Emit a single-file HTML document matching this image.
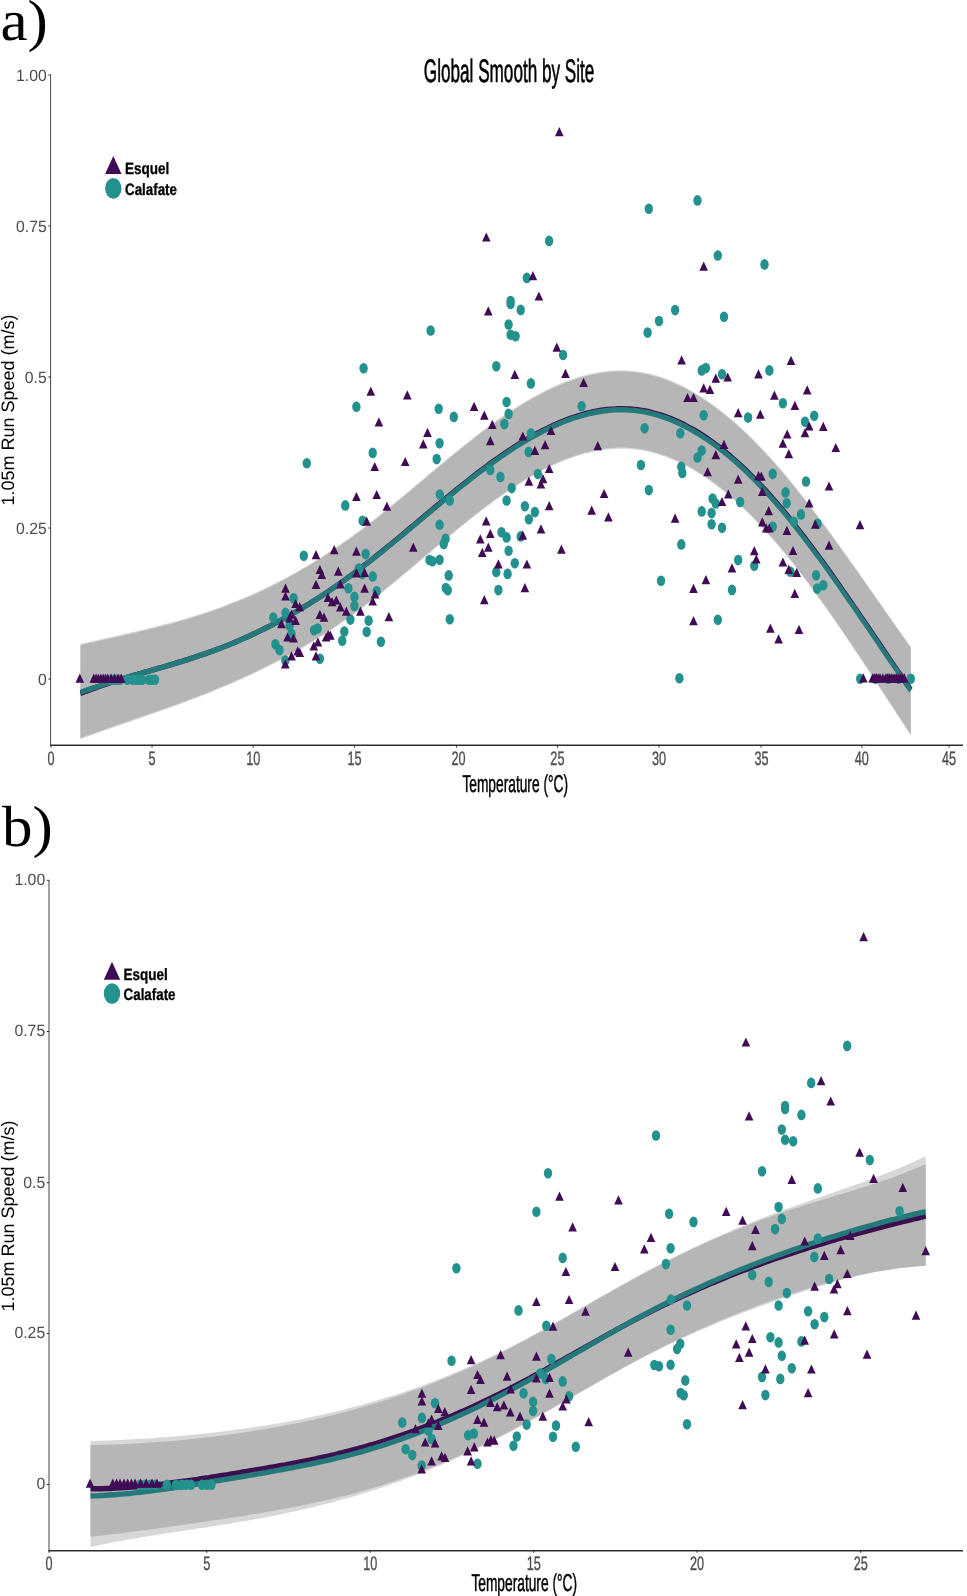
<!DOCTYPE html>
<html><head><meta charset="utf-8"><title>Global Smooth by Site</title>
<style>html,body{margin:0;padding:0;background:#fff;}body{width:967px;height:1596px;overflow:hidden;font-family:"Liberation Sans",sans-serif;}svg{display:block;}text{text-rendering:geometricPrecision;}</style>
</head><body>
<svg width="967" height="1596" viewBox="0 0 967 1596"><path d="M80.4,644.0 L84.2,643.1 L88.0,642.2 L91.8,641.4 L95.6,640.5 L99.4,639.6 L103.2,638.8 L106.9,637.9 L110.7,637.1 L114.5,636.2 L118.3,635.4 L122.1,634.5 L125.9,633.6 L129.7,632.8 L133.5,631.9 L137.3,631.0 L141.1,630.1 L144.9,629.2 L148.7,628.3 L152.4,627.3 L156.2,626.4 L160.0,625.4 L163.8,624.5 L167.6,623.5 L171.4,622.5 L175.2,621.4 L179.0,620.4 L182.8,619.3 L186.6,618.2 L190.4,617.0 L194.2,615.9 L197.9,614.7 L201.7,613.5 L205.5,612.3 L209.3,611.0 L213.1,609.7 L216.9,608.3 L220.7,607.0 L224.5,605.6 L228.3,604.1 L232.1,602.6 L235.9,601.1 L239.7,599.6 L243.4,598.0 L247.2,596.4 L251.0,594.7 L254.8,593.0 L258.6,591.3 L262.4,589.5 L266.2,587.7 L270.0,585.8 L273.8,583.9 L277.6,582.0 L281.4,580.0 L285.2,578.0 L288.9,576.0 L292.7,573.9 L296.5,571.8 L300.3,569.6 L304.1,567.4 L307.9,565.2 L311.7,562.9 L315.5,560.5 L319.3,558.2 L323.1,555.8 L326.9,553.3 L330.7,550.8 L334.4,548.3 L338.2,545.7 L342.0,543.1 L345.8,540.4 L349.6,537.7 L353.4,535.0 L357.2,532.2 L361.0,529.4 L364.8,526.5 L368.6,523.6 L372.4,520.6 L376.2,517.7 L380.0,514.6 L383.7,511.6 L387.5,508.5 L391.3,505.5 L395.1,502.3 L398.9,499.2 L402.7,496.1 L406.5,492.9 L410.3,489.7 L414.1,486.6 L417.9,483.4 L421.7,480.2 L425.5,477.0 L429.2,473.8 L433.0,470.7 L436.8,467.5 L440.6,464.3 L444.4,461.2 L448.2,458.1 L452.0,454.9 L455.8,451.8 L459.6,448.8 L463.4,445.7 L467.2,442.7 L471.0,439.7 L474.7,436.7 L478.5,433.8 L482.3,430.9 L486.1,428.1 L489.9,425.3 L493.7,422.5 L497.5,419.8 L501.3,417.1 L505.1,414.5 L508.9,412.0 L512.7,409.5 L516.5,407.0 L520.2,404.6 L524.0,402.3 L527.8,400.1 L531.6,397.9 L535.4,395.8 L539.2,393.7 L543.0,391.7 L546.8,389.8 L550.6,388.0 L554.4,386.2 L558.2,384.5 L562.0,383.0 L565.7,381.4 L569.5,380.0 L573.3,378.7 L577.1,377.4 L580.9,376.3 L584.7,375.2 L588.5,374.3 L592.3,373.4 L596.1,372.7 L599.9,372.0 L603.7,371.4 L607.5,371.0 L611.2,370.6 L615.0,370.4 L618.8,370.3 L622.6,370.3 L626.4,370.4 L630.2,370.6 L634.0,371.0 L637.8,371.5 L641.6,372.1 L645.4,372.8 L649.2,373.6 L653.0,374.6 L656.8,375.6 L660.5,376.8 L664.3,378.1 L668.1,379.5 L671.9,381.1 L675.7,382.7 L679.5,384.5 L683.3,386.3 L687.1,388.3 L690.9,390.4 L694.7,392.6 L698.5,394.9 L702.3,397.3 L706.0,399.8 L709.8,402.4 L713.6,405.1 L717.4,407.9 L721.2,410.9 L725.0,413.9 L728.8,417.0 L732.6,420.2 L736.4,423.6 L740.2,427.0 L744.0,430.5 L747.8,434.1 L751.5,437.8 L755.3,441.6 L759.1,445.5 L762.9,449.4 L766.7,453.5 L770.5,457.6 L774.3,461.9 L778.1,466.2 L781.9,470.6 L785.7,475.1 L789.5,479.7 L793.3,484.3 L797.0,489.0 L800.8,493.8 L804.6,498.6 L808.4,503.5 L812.2,508.5 L816.0,513.5 L819.8,518.5 L823.6,523.6 L827.4,528.8 L831.2,534.0 L835.0,539.2 L838.8,544.5 L842.5,549.8 L846.3,555.1 L850.1,560.4 L853.9,565.8 L857.7,571.1 L861.5,576.5 L865.3,581.9 L869.1,587.4 L872.9,592.8 L876.7,598.2 L880.5,603.6 L884.3,609.0 L888.0,614.4 L891.8,619.8 L895.6,625.2 L899.4,630.6 L903.2,635.9 L907.0,641.2 L910.8,646.5 L910.8,735.6 L907.0,729.8 L903.2,724.0 L899.4,718.2 L895.6,712.4 L891.8,706.6 L888.0,700.8 L884.3,695.0 L880.5,689.2 L876.7,683.4 L872.9,677.6 L869.1,671.8 L865.3,666.1 L861.5,660.3 L857.7,654.6 L853.9,649.0 L850.1,643.3 L846.3,637.7 L842.5,632.1 L838.8,626.6 L835.0,621.1 L831.2,615.6 L827.4,610.2 L823.6,604.9 L819.8,599.6 L816.0,594.3 L812.2,589.2 L808.4,584.0 L804.6,579.0 L800.8,574.0 L797.0,569.1 L793.3,564.2 L789.5,559.5 L785.7,554.8 L781.9,550.2 L778.1,545.7 L774.3,541.2 L770.5,536.9 L766.7,532.7 L762.9,528.5 L759.1,524.5 L755.3,520.5 L751.5,516.6 L747.8,512.9 L744.0,509.2 L740.2,505.6 L736.4,502.2 L732.6,498.8 L728.8,495.5 L725.0,492.4 L721.2,489.3 L717.4,486.4 L713.6,483.5 L709.8,480.8 L706.0,478.2 L702.3,475.6 L698.5,473.2 L694.7,470.9 L690.9,468.7 L687.1,466.6 L683.3,464.6 L679.5,462.8 L675.7,461.0 L671.9,459.4 L668.1,457.8 L664.3,456.4 L660.5,455.1 L656.8,454.0 L653.0,452.9 L649.2,451.9 L645.4,451.1 L641.6,450.4 L637.8,449.8 L634.0,449.4 L630.2,449.1 L626.4,448.8 L622.6,448.7 L618.8,448.8 L615.0,448.9 L611.2,449.1 L607.5,449.5 L603.7,450.0 L599.9,450.5 L596.1,451.2 L592.3,452.0 L588.5,452.9 L584.7,453.8 L580.9,454.9 L577.1,456.1 L573.3,457.4 L569.5,458.7 L565.7,460.1 L562.0,461.7 L558.2,463.3 L554.4,465.0 L550.6,466.8 L546.8,468.6 L543.0,470.5 L539.2,472.5 L535.4,474.6 L531.6,476.8 L527.8,479.0 L524.0,481.3 L520.2,483.6 L516.5,486.0 L512.7,488.5 L508.9,491.0 L505.1,493.6 L501.3,496.2 L497.5,498.9 L493.7,501.6 L489.9,504.4 L486.1,507.3 L482.3,510.1 L478.5,513.1 L474.7,516.0 L471.0,519.0 L467.2,522.0 L463.4,525.1 L459.6,528.1 L455.8,531.2 L452.0,534.4 L448.2,537.5 L444.4,540.7 L440.6,543.8 L436.8,547.0 L433.0,550.2 L429.2,553.4 L425.5,556.6 L421.7,559.8 L417.9,563.0 L414.1,566.2 L410.3,569.4 L406.5,572.6 L402.7,575.8 L398.9,578.9 L395.1,582.1 L391.3,585.2 L387.5,588.3 L383.7,591.3 L380.0,594.4 L376.2,597.4 L372.4,600.4 L368.6,603.3 L364.8,606.2 L361.0,609.1 L357.2,611.9 L353.4,614.7 L349.6,617.4 L345.8,620.1 L342.0,622.8 L338.2,625.4 L334.4,627.9 L330.7,630.5 L326.9,632.9 L323.1,635.4 L319.3,637.8 L315.5,640.1 L311.7,642.5 L307.9,644.7 L304.1,647.0 L300.3,649.2 L296.5,651.4 L292.7,653.5 L288.9,655.6 L285.2,657.7 L281.4,659.7 L277.6,661.7 L273.8,663.7 L270.0,665.6 L266.2,667.5 L262.4,669.4 L258.6,671.3 L254.8,673.1 L251.0,674.9 L247.2,676.6 L243.4,678.4 L239.7,680.1 L235.9,681.8 L232.1,683.4 L228.3,685.1 L224.5,686.7 L220.7,688.3 L216.9,689.8 L213.1,691.4 L209.3,692.9 L205.5,694.4 L201.7,695.9 L197.9,697.4 L194.2,698.8 L190.4,700.3 L186.6,701.7 L182.8,703.1 L179.0,704.5 L175.2,705.9 L171.4,707.2 L167.6,708.6 L163.8,710.0 L160.0,711.3 L156.2,712.6 L152.4,714.0 L148.7,715.3 L144.9,716.6 L141.1,717.9 L137.3,719.2 L133.5,720.5 L129.7,721.9 L125.9,723.2 L122.1,724.5 L118.3,725.8 L114.5,727.1 L110.7,728.4 L106.9,729.7 L103.2,731.1 L99.4,732.4 L95.6,733.7 L91.8,735.1 L88.0,736.4 L84.2,737.8 L80.4,739.2Z" fill="#d7d7d7"/>
<path d="M80.4,645.2 L84.2,644.3 L88.0,643.4 L91.8,642.6 L95.6,641.7 L99.4,640.8 L103.2,640.0 L106.9,639.1 L110.7,638.3 L114.5,637.4 L118.3,636.6 L122.1,635.7 L125.9,634.8 L129.7,634.0 L133.5,633.1 L137.3,632.2 L141.1,631.3 L144.9,630.4 L148.7,629.5 L152.4,628.5 L156.2,627.6 L160.0,626.6 L163.8,625.7 L167.6,624.7 L171.4,623.7 L175.2,622.6 L179.0,621.6 L182.8,620.5 L186.6,619.4 L190.4,618.2 L194.2,617.1 L197.9,615.9 L201.7,614.7 L205.5,613.5 L209.3,612.2 L213.1,610.9 L216.9,609.5 L220.7,608.2 L224.5,606.8 L228.3,605.3 L232.1,603.8 L235.9,602.3 L239.7,600.8 L243.4,599.2 L247.2,597.6 L251.0,595.9 L254.8,594.2 L258.6,592.5 L262.4,590.7 L266.2,588.9 L270.0,587.0 L273.8,585.1 L277.6,583.2 L281.4,581.2 L285.2,579.2 L288.9,577.2 L292.7,575.1 L296.5,573.0 L300.3,570.8 L304.1,568.6 L307.9,566.4 L311.7,564.1 L315.5,561.7 L319.3,559.4 L323.1,557.0 L326.9,554.5 L330.7,552.0 L334.4,549.5 L338.2,546.9 L342.0,544.3 L345.8,541.6 L349.6,538.9 L353.4,536.2 L357.2,533.4 L361.0,530.6 L364.8,527.7 L368.6,524.8 L372.4,521.8 L376.2,518.9 L380.0,515.8 L383.7,512.8 L387.5,509.7 L391.3,506.7 L395.1,503.5 L398.9,500.4 L402.7,497.3 L406.5,494.1 L410.3,490.9 L414.1,487.8 L417.9,484.6 L421.7,481.4 L425.5,478.2 L429.2,475.0 L433.0,471.9 L436.8,468.7 L440.6,465.5 L444.4,462.4 L448.2,459.3 L452.0,456.1 L455.8,453.0 L459.6,450.0 L463.4,446.9 L467.2,443.9 L471.0,440.9 L474.7,437.9 L478.5,435.0 L482.3,432.1 L486.1,429.3 L489.9,426.5 L493.7,423.7 L497.5,421.0 L501.3,418.3 L505.1,415.7 L508.9,413.2 L512.7,410.7 L516.5,408.2 L520.2,405.8 L524.0,403.5 L527.8,401.3 L531.6,399.1 L535.4,397.0 L539.2,394.9 L543.0,392.9 L546.8,391.0 L550.6,389.2 L554.4,387.4 L558.2,385.7 L562.0,384.2 L565.7,382.6 L569.5,381.2 L573.3,379.9 L577.1,378.6 L580.9,377.5 L584.7,376.4 L588.5,375.5 L592.3,374.6 L596.1,373.9 L599.9,373.2 L603.7,372.6 L607.5,372.2 L611.2,371.8 L615.0,371.6 L618.8,371.5 L622.6,371.5 L626.4,371.6 L630.2,371.8 L634.0,372.2 L637.8,372.7 L641.6,373.3 L645.4,374.0 L649.2,374.8 L653.0,375.8 L656.8,376.8 L660.5,378.0 L664.3,379.3 L668.1,380.7 L671.9,382.3 L675.7,383.9 L679.5,385.7 L683.3,387.5 L687.1,389.5 L690.9,391.6 L694.7,393.8 L698.5,396.1 L702.3,398.5 L706.0,401.0 L709.8,403.6 L713.6,406.3 L717.4,409.1 L721.2,412.1 L725.0,415.1 L728.8,418.2 L732.6,421.4 L736.4,424.8 L740.2,428.2 L744.0,431.7 L747.8,435.3 L751.5,439.0 L755.3,442.8 L759.1,446.7 L762.9,450.6 L766.7,454.7 L770.5,458.8 L774.3,463.1 L778.1,467.4 L781.9,471.8 L785.7,476.3 L789.5,480.9 L793.3,485.5 L797.0,490.2 L800.8,495.0 L804.6,499.8 L808.4,504.7 L812.2,509.7 L816.0,514.7 L819.8,519.7 L823.6,524.8 L827.4,530.0 L831.2,535.2 L835.0,540.4 L838.8,545.7 L842.5,551.0 L846.3,556.3 L850.1,561.6 L853.9,567.0 L857.7,572.3 L861.5,577.7 L865.3,583.1 L869.1,588.6 L872.9,594.0 L876.7,599.4 L880.5,604.8 L884.3,610.2 L888.0,615.6 L891.8,621.0 L895.6,626.4 L899.4,631.8 L903.2,637.1 L907.0,642.4 L910.8,647.7 L910.8,734.4 L907.0,728.6 L903.2,722.8 L899.4,717.0 L895.6,711.2 L891.8,705.4 L888.0,699.6 L884.3,693.8 L880.5,688.0 L876.7,682.2 L872.9,676.4 L869.1,670.6 L865.3,664.9 L861.5,659.1 L857.7,653.4 L853.9,647.8 L850.1,642.1 L846.3,636.5 L842.5,630.9 L838.8,625.4 L835.0,619.9 L831.2,614.4 L827.4,609.0 L823.6,603.7 L819.8,598.4 L816.0,593.1 L812.2,588.0 L808.4,582.8 L804.6,577.8 L800.8,572.8 L797.0,567.9 L793.3,563.0 L789.5,558.3 L785.7,553.6 L781.9,549.0 L778.1,544.5 L774.3,540.0 L770.5,535.7 L766.7,531.5 L762.9,527.3 L759.1,523.3 L755.3,519.3 L751.5,515.4 L747.8,511.7 L744.0,508.0 L740.2,504.4 L736.4,501.0 L732.6,497.6 L728.8,494.3 L725.0,491.2 L721.2,488.1 L717.4,485.2 L713.6,482.3 L709.8,479.6 L706.0,477.0 L702.3,474.4 L698.5,472.0 L694.7,469.7 L690.9,467.5 L687.1,465.4 L683.3,463.4 L679.5,461.6 L675.7,459.8 L671.9,458.2 L668.1,456.6 L664.3,455.2 L660.5,453.9 L656.8,452.8 L653.0,451.7 L649.2,450.7 L645.4,449.9 L641.6,449.2 L637.8,448.6 L634.0,448.2 L630.2,447.9 L626.4,447.6 L622.6,447.5 L618.8,447.6 L615.0,447.7 L611.2,447.9 L607.5,448.3 L603.7,448.8 L599.9,449.3 L596.1,450.0 L592.3,450.8 L588.5,451.7 L584.7,452.6 L580.9,453.7 L577.1,454.9 L573.3,456.2 L569.5,457.5 L565.7,458.9 L562.0,460.5 L558.2,462.1 L554.4,463.8 L550.6,465.6 L546.8,467.4 L543.0,469.3 L539.2,471.3 L535.4,473.4 L531.6,475.6 L527.8,477.8 L524.0,480.1 L520.2,482.4 L516.5,484.8 L512.7,487.3 L508.9,489.8 L505.1,492.4 L501.3,495.0 L497.5,497.7 L493.7,500.4 L489.9,503.2 L486.1,506.1 L482.3,508.9 L478.5,511.9 L474.7,514.8 L471.0,517.8 L467.2,520.8 L463.4,523.9 L459.6,526.9 L455.8,530.0 L452.0,533.2 L448.2,536.3 L444.4,539.5 L440.6,542.6 L436.8,545.8 L433.0,549.0 L429.2,552.2 L425.5,555.4 L421.7,558.6 L417.9,561.8 L414.1,565.0 L410.3,568.2 L406.5,571.4 L402.7,574.6 L398.9,577.7 L395.1,580.9 L391.3,584.0 L387.5,587.1 L383.7,590.1 L380.0,593.2 L376.2,596.2 L372.4,599.2 L368.6,602.1 L364.8,605.0 L361.0,607.9 L357.2,610.7 L353.4,613.5 L349.6,616.2 L345.8,618.9 L342.0,621.6 L338.2,624.2 L334.4,626.7 L330.7,629.3 L326.9,631.7 L323.1,634.2 L319.3,636.6 L315.5,638.9 L311.7,641.3 L307.9,643.5 L304.1,645.8 L300.3,648.0 L296.5,650.2 L292.7,652.3 L288.9,654.4 L285.2,656.5 L281.4,658.5 L277.6,660.5 L273.8,662.5 L270.0,664.4 L266.2,666.3 L262.4,668.2 L258.6,670.1 L254.8,671.9 L251.0,673.7 L247.2,675.4 L243.4,677.2 L239.7,678.9 L235.9,680.6 L232.1,682.2 L228.3,683.9 L224.5,685.5 L220.7,687.1 L216.9,688.6 L213.1,690.2 L209.3,691.7 L205.5,693.2 L201.7,694.7 L197.9,696.2 L194.2,697.6 L190.4,699.1 L186.6,700.5 L182.8,701.9 L179.0,703.3 L175.2,704.7 L171.4,706.0 L167.6,707.4 L163.8,708.8 L160.0,710.1 L156.2,711.4 L152.4,712.8 L148.7,714.1 L144.9,715.4 L141.1,716.7 L137.3,718.0 L133.5,719.3 L129.7,720.7 L125.9,722.0 L122.1,723.3 L118.3,724.6 L114.5,725.9 L110.7,727.2 L106.9,728.5 L103.2,729.9 L99.4,731.2 L95.6,732.5 L91.8,733.9 L88.0,735.2 L84.2,736.6 L80.4,738.0Z" fill="#b6b6b6"/>
<g transform="scale(1,1.26)"><path d="M80.4,550.3 L84.2,549.2 L88.0,548.1 L91.8,547.0 L95.6,545.9 L99.4,544.8 L103.2,543.8 L106.9,542.8 L110.7,541.8 L114.5,540.8 L118.3,539.9 L122.1,538.9 L125.9,537.9 L129.7,537.0 L133.5,536.1 L137.3,535.3 L141.1,534.4 L144.9,533.5 L148.7,532.7 L152.4,531.8 L156.2,530.9 L160.0,530.0 L163.8,529.2 L167.6,528.3 L171.4,527.4 L175.2,526.5 L179.0,525.6 L182.8,524.6 L186.6,523.7 L190.4,522.7 L194.2,521.8 L197.9,520.8 L201.7,519.7 L205.5,518.7 L209.3,517.6 L213.1,516.6 L216.9,515.4 L220.7,514.3 L224.5,513.1 L228.3,511.9 L232.1,510.7 L235.9,509.4 L239.7,508.1 L243.4,506.8 L247.2,505.5 L251.0,504.1 L254.8,502.7 L258.6,501.2 L262.4,499.8 L266.2,498.3 L270.0,496.8 L273.8,495.2 L277.6,493.6 L281.4,492.0 L285.2,490.3 L288.9,488.7 L292.7,487.0 L296.5,485.2 L300.3,483.4 L304.1,481.6 L307.9,479.8 L311.7,477.9 L315.5,476.0 L319.3,474.1 L323.1,472.1 L326.9,470.1 L330.7,468.0 L334.4,466.0 L338.2,463.9 L342.0,461.8 L345.8,459.6 L349.6,457.4 L353.4,455.2 L357.2,452.9 L361.0,450.7 L364.8,448.3 L368.6,446.0 L372.4,443.6 L376.2,441.2 L380.0,438.8 L383.7,436.4 L387.5,433.9 L391.3,431.5 L395.1,429.0 L398.9,426.5 L402.7,424.0 L406.5,421.5 L410.3,418.9 L414.1,416.4 L417.9,413.9 L421.7,411.4 L425.5,408.8 L429.2,406.3 L433.0,403.8 L436.8,401.3 L440.6,398.8 L444.4,396.3 L448.2,393.9 L452.0,391.4 L455.8,388.9 L459.6,386.5 L463.4,384.1 L467.2,381.7 L471.0,379.4 L474.7,377.0 L478.5,374.7 L482.3,372.5 L486.1,370.2 L489.9,368.0 L493.7,365.8 L497.5,363.7 L501.3,361.6 L505.1,359.5 L508.9,357.5 L512.7,355.5 L516.5,353.6 L520.2,351.7 L524.0,349.9 L527.8,348.1 L531.6,346.4 L535.4,344.7 L539.2,343.1 L543.0,341.5 L546.8,340.0 L550.6,338.5 L554.4,337.2 L558.2,335.8 L562.0,334.6 L565.7,333.4 L569.5,332.2 L573.3,331.2 L577.1,330.2 L580.9,329.3 L584.7,328.4 L588.5,327.7 L592.3,327.0 L596.1,326.4 L599.9,325.8 L603.7,325.4 L607.5,325.0 L611.2,324.7 L615.0,324.6 L618.8,324.4 L622.6,324.4 L626.4,324.5 L630.2,324.6 L634.0,324.9 L637.8,325.2 L641.6,325.7 L645.4,326.2 L649.2,326.8 L653.0,327.6 L656.8,328.4 L660.5,329.3 L664.3,330.3 L668.1,331.4 L671.9,332.5 L675.7,333.8 L679.5,335.2 L683.3,336.6 L687.1,338.2 L690.9,339.8 L694.7,341.5 L698.5,343.3 L702.3,345.2 L706.0,347.2 L709.8,349.2 L713.6,351.4 L717.4,353.6 L721.2,355.9 L725.0,358.4 L728.8,360.8 L732.6,363.4 L736.4,366.0 L740.2,368.8 L744.0,371.6 L747.8,374.4 L751.5,377.4 L755.3,380.4 L759.1,383.6 L762.9,386.7 L766.7,390.0 L770.5,393.3 L774.3,396.8 L778.1,400.2 L781.9,403.8 L785.7,407.4 L789.5,411.1 L793.3,414.9 L797.0,418.7 L800.8,422.5 L804.6,426.4 L808.4,430.4 L812.2,434.4 L816.0,438.5 L819.8,442.6 L823.6,446.7 L827.4,450.9 L831.2,455.1 L835.0,459.4 L838.8,463.7 L842.5,468.0 L846.3,472.3 L850.1,476.7 L853.9,481.1 L857.7,485.4 L861.5,489.8 L865.3,494.3 L869.1,498.7 L872.9,503.1 L876.7,507.5 L880.5,512.0 L884.3,516.4 L888.0,520.8 L891.8,525.3 L895.6,529.7 L899.4,534.1 L903.2,538.4 L907.0,542.8 L910.8,547.1" fill="none" stroke="#3c0f50" stroke-width="4.3" stroke-linejoin="round"/></g>
<g transform="scale(1,1.26)"><path d="M80.4,549.5 L84.2,548.4 L88.0,547.4 L91.8,546.4 L95.6,545.4 L99.4,544.4 L103.2,543.4 L106.9,542.4 L110.7,541.5 L114.5,540.6 L118.3,539.7 L122.1,538.8 L125.9,537.9 L129.7,537.0 L133.5,536.1 L137.3,535.3 L141.1,534.4 L144.9,533.5 L148.7,532.7 L152.4,531.8 L156.2,530.9 L160.0,530.0 L163.8,529.2 L167.6,528.3 L171.4,527.4 L175.2,526.5 L179.0,525.6 L182.8,524.6 L186.6,523.7 L190.4,522.7 L194.2,521.8 L197.9,520.8 L201.7,519.7 L205.5,518.7 L209.3,517.6 L213.1,516.6 L216.9,515.4 L220.7,514.3 L224.5,513.1 L228.3,511.9 L232.1,510.7 L235.9,509.4 L239.7,508.1 L243.4,506.8 L247.2,505.5 L251.0,504.1 L254.8,502.7 L258.6,501.2 L262.4,499.8 L266.2,498.3 L270.0,496.8 L273.8,495.2 L277.6,493.6 L281.4,492.0 L285.2,490.3 L288.9,488.7 L292.7,487.0 L296.5,485.2 L300.3,483.5 L304.1,481.7 L307.9,479.8 L311.7,478.0 L315.5,476.1 L319.3,474.1 L323.1,472.2 L326.9,470.2 L330.7,468.2 L334.4,466.1 L338.2,464.1 L342.0,462.0 L345.8,459.8 L349.6,457.6 L353.4,455.4 L357.2,453.2 L361.0,450.9 L364.8,448.6 L368.6,446.3 L372.4,444.0 L376.2,441.6 L380.0,439.2 L383.7,436.8 L387.5,434.3 L391.3,431.9 L395.1,429.4 L398.9,426.9 L402.7,424.5 L406.5,422.0 L410.3,419.5 L414.1,416.9 L417.9,414.4 L421.7,411.9 L425.5,409.4 L429.2,406.9 L433.0,404.4 L436.8,401.9 L440.6,399.4 L444.4,396.9 L448.2,394.5 L452.0,392.0 L455.8,389.6 L459.6,387.1 L463.4,384.7 L467.2,382.4 L471.0,380.0 L474.7,377.7 L478.5,375.4 L482.3,373.1 L486.1,370.9 L489.9,368.7 L493.7,366.5 L497.5,364.4 L501.3,362.3 L505.1,360.2 L508.9,358.2 L512.7,356.2 L516.5,354.3 L520.2,352.4 L524.0,350.6 L527.8,348.8 L531.6,347.1 L535.4,345.4 L539.2,343.8 L543.0,342.2 L546.8,340.7 L550.6,339.3 L554.4,337.9 L558.2,336.6 L562.0,335.3 L565.7,334.1 L569.5,333.0 L573.3,331.9 L577.1,331.0 L580.9,330.0 L584.7,329.2 L588.5,328.4 L592.3,327.8 L596.1,327.2 L599.9,326.6 L603.7,326.2 L607.5,325.8 L611.2,325.5 L615.0,325.3 L618.8,325.2 L622.6,325.2 L626.4,325.3 L630.2,325.5 L634.0,325.7 L637.8,326.1 L641.6,326.5 L645.4,327.1 L649.2,327.7 L653.0,328.5 L656.8,329.3 L660.5,330.2 L664.3,331.2 L668.1,332.3 L671.9,333.5 L675.7,334.8 L679.5,336.2 L683.3,337.7 L687.1,339.2 L690.9,340.9 L694.7,342.6 L698.5,344.4 L702.3,346.3 L706.0,348.3 L709.8,350.3 L713.6,352.5 L717.4,354.7 L721.2,357.0 L725.0,359.4 L728.8,361.9 L732.6,364.5 L736.4,367.1 L740.2,369.8 L744.0,372.6 L747.8,375.5 L751.5,378.5 L755.3,381.5 L759.1,384.6 L762.9,387.8 L766.7,391.1 L770.5,394.4 L774.3,397.8 L778.1,401.3 L781.9,404.8 L785.7,408.5 L789.5,412.1 L793.3,415.9 L797.0,419.7 L800.8,423.6 L804.6,427.5 L808.4,431.4 L812.2,435.5 L816.0,439.5 L819.8,443.6 L823.6,447.8 L827.4,451.9 L831.2,456.2 L835.0,460.4 L838.8,464.7 L842.5,469.0 L846.3,473.3 L850.1,477.7 L853.9,482.0 L857.7,486.4 L861.5,490.8 L865.3,495.2 L869.1,499.7 L872.9,504.1 L876.7,508.5 L880.5,513.0 L884.3,517.4 L888.0,521.8 L891.8,526.2 L895.6,530.6 L899.4,535.0 L903.2,539.4 L907.0,543.8 L910.8,548.1" fill="none" stroke="#26797a" stroke-width="4.3" stroke-linejoin="round"/></g>
<g fill="#23918d"><ellipse cx="345.3" cy="505.4" rx="4.2" ry="5.3"/><ellipse cx="362.6" cy="520.8" rx="4.2" ry="5.3"/><ellipse cx="303.8" cy="555.8" rx="4.2" ry="5.3"/><ellipse cx="365.7" cy="554.1" rx="4.2" ry="5.3"/><ellipse cx="358.7" cy="568.5" rx="4.2" ry="5.3"/><ellipse cx="362.3" cy="573.9" rx="4.2" ry="5.3"/><ellipse cx="372.7" cy="576.4" rx="4.2" ry="5.3"/><ellipse cx="348.4" cy="588.3" rx="4.2" ry="5.3"/><ellipse cx="376.7" cy="591.3" rx="4.2" ry="5.3"/><ellipse cx="354.4" cy="596.8" rx="4.2" ry="5.3"/><ellipse cx="354.4" cy="605.9" rx="4.2" ry="5.3"/><ellipse cx="293.6" cy="598.3" rx="4.2" ry="5.3"/><ellipse cx="285.5" cy="612.9" rx="4.2" ry="5.3"/><ellipse cx="273.3" cy="617.6" rx="4.2" ry="5.3"/><ellipse cx="289.6" cy="625.8" rx="4.2" ry="5.3"/><ellipse cx="291.5" cy="634.0" rx="4.2" ry="5.3"/><ellipse cx="275.4" cy="644.2" rx="4.2" ry="5.3"/><ellipse cx="279.5" cy="650.1" rx="4.2" ry="5.3"/><ellipse cx="285.3" cy="660.6" rx="4.2" ry="5.3"/><ellipse cx="314.1" cy="630.3" rx="4.2" ry="5.3"/><ellipse cx="317.6" cy="628.5" rx="4.2" ry="5.3"/><ellipse cx="319.9" cy="658.8" rx="4.2" ry="5.3"/><ellipse cx="344.3" cy="631.5" rx="4.2" ry="5.3"/><ellipse cx="342.2" cy="640.7" rx="4.2" ry="5.3"/><ellipse cx="350.4" cy="619.6" rx="4.2" ry="5.3"/><ellipse cx="368.6" cy="620.6" rx="4.2" ry="5.3"/><ellipse cx="366.7" cy="631.8" rx="4.2" ry="5.3"/><ellipse cx="380.9" cy="641.7" rx="4.2" ry="5.3"/><ellipse cx="439.8" cy="494.5" rx="4.2" ry="5.3"/><ellipse cx="449.8" cy="500.5" rx="4.2" ry="5.3"/><ellipse cx="439.6" cy="524.8" rx="4.2" ry="5.3"/><ellipse cx="445.6" cy="538.7" rx="4.2" ry="5.3"/><ellipse cx="443.7" cy="543.9" rx="4.2" ry="5.3"/><ellipse cx="429.5" cy="560.0" rx="4.2" ry="5.3"/><ellipse cx="432.4" cy="561.3" rx="4.2" ry="5.3"/><ellipse cx="439.6" cy="559.8" rx="4.2" ry="5.3"/><ellipse cx="448.7" cy="575.4" rx="4.2" ry="5.3"/><ellipse cx="445.8" cy="588.1" rx="4.2" ry="5.3"/><ellipse cx="447.8" cy="590.3" rx="4.2" ry="5.3"/><ellipse cx="449.8" cy="619.3" rx="4.2" ry="5.3"/><ellipse cx="506.6" cy="500.5" rx="4.2" ry="5.3"/><ellipse cx="524.9" cy="506.2" rx="4.2" ry="5.3"/><ellipse cx="534.9" cy="512.1" rx="4.2" ry="5.3"/><ellipse cx="528.9" cy="519.3" rx="4.2" ry="5.3"/><ellipse cx="501.5" cy="532.2" rx="4.2" ry="5.3"/><ellipse cx="506.6" cy="537.4" rx="4.2" ry="5.3"/><ellipse cx="520.7" cy="536.4" rx="4.2" ry="5.3"/><ellipse cx="508.6" cy="550.8" rx="4.2" ry="5.3"/><ellipse cx="514.8" cy="563.3" rx="4.2" ry="5.3"/><ellipse cx="496.3" cy="571.9" rx="4.2" ry="5.3"/><ellipse cx="507.6" cy="573.9" rx="4.2" ry="5.3"/><ellipse cx="498.4" cy="590.1" rx="4.2" ry="5.3"/><ellipse cx="363.6" cy="368.2" rx="4.2" ry="5.3"/><ellipse cx="356.4" cy="406.7" rx="4.2" ry="5.3"/><ellipse cx="372.7" cy="452.9" rx="4.2" ry="5.3"/><ellipse cx="306.8" cy="463.3" rx="4.2" ry="5.3"/><ellipse cx="510.6" cy="301.0" rx="4.2" ry="5.3"/><ellipse cx="510.6" cy="304.0" rx="4.2" ry="5.3"/><ellipse cx="520.7" cy="309.9" rx="4.2" ry="5.3"/><ellipse cx="508.6" cy="324.5" rx="4.2" ry="5.3"/><ellipse cx="510.6" cy="334.7" rx="4.2" ry="5.3"/><ellipse cx="515.6" cy="336.2" rx="4.2" ry="5.3"/><ellipse cx="430.6" cy="330.5" rx="4.2" ry="5.3"/><ellipse cx="496.3" cy="366.2" rx="4.2" ry="5.3"/><ellipse cx="530.9" cy="383.4" rx="4.2" ry="5.3"/><ellipse cx="506.6" cy="402.0" rx="4.2" ry="5.3"/><ellipse cx="508.6" cy="413.9" rx="4.2" ry="5.3"/><ellipse cx="504.4" cy="424.1" rx="4.2" ry="5.3"/><ellipse cx="438.7" cy="408.7" rx="4.2" ry="5.3"/><ellipse cx="453.8" cy="416.9" rx="4.2" ry="5.3"/><ellipse cx="439.6" cy="443.2" rx="4.2" ry="5.3"/><ellipse cx="436.7" cy="459.1" rx="4.2" ry="5.3"/><ellipse cx="530.9" cy="433.5" rx="4.2" ry="5.3"/><ellipse cx="528.7" cy="451.9" rx="4.2" ry="5.3"/><ellipse cx="490.3" cy="470.0" rx="4.2" ry="5.3"/><ellipse cx="500.4" cy="476.9" rx="4.2" ry="5.3"/><ellipse cx="537.9" cy="474.0" rx="4.2" ry="5.3"/><ellipse cx="511.7" cy="488.1" rx="4.2" ry="5.3"/><ellipse cx="549.1" cy="240.9" rx="4.2" ry="5.3"/><ellipse cx="526.8" cy="277.9" rx="4.2" ry="5.3"/><ellipse cx="563.1" cy="355.0" rx="4.2" ry="5.3"/><ellipse cx="581.6" cy="406.2" rx="4.2" ry="5.3"/><ellipse cx="110.7" cy="679.7" rx="4.2" ry="5.3"/><ellipse cx="113.8" cy="679.7" rx="4.2" ry="5.3"/><ellipse cx="116.9" cy="679.7" rx="4.2" ry="5.3"/><ellipse cx="120.0" cy="679.7" rx="4.2" ry="5.3"/><ellipse cx="127.3" cy="679.7" rx="4.2" ry="5.3"/><ellipse cx="133.0" cy="679.7" rx="4.2" ry="5.3"/><ellipse cx="136.6" cy="679.7" rx="4.2" ry="5.3"/><ellipse cx="139.4" cy="679.7" rx="4.2" ry="5.3"/><ellipse cx="142.3" cy="679.7" rx="4.2" ry="5.3"/><ellipse cx="149.1" cy="679.7" rx="4.2" ry="5.3"/><ellipse cx="152.1" cy="679.7" rx="4.2" ry="5.3"/><ellipse cx="155.0" cy="679.7" rx="4.2" ry="5.3"/><ellipse cx="648.8" cy="208.8" rx="4.2" ry="5.3"/><ellipse cx="697.5" cy="200.4" rx="4.2" ry="5.3"/><ellipse cx="717.8" cy="255.5" rx="4.2" ry="5.3"/><ellipse cx="764.5" cy="264.4" rx="4.2" ry="5.3"/><ellipse cx="675.1" cy="310.1" rx="4.2" ry="5.3"/><ellipse cx="659.0" cy="321.0" rx="4.2" ry="5.3"/><ellipse cx="647.6" cy="332.6" rx="4.2" ry="5.3"/><ellipse cx="724.0" cy="316.8" rx="4.2" ry="5.3"/><ellipse cx="701.7" cy="370.4" rx="4.2" ry="5.3"/><ellipse cx="705.9" cy="368.1" rx="4.2" ry="5.3"/><ellipse cx="722.0" cy="374.2" rx="4.2" ry="5.3"/><ellipse cx="769.4" cy="370.4" rx="4.2" ry="5.3"/><ellipse cx="782.9" cy="403.2" rx="4.2" ry="5.3"/><ellipse cx="748.1" cy="417.6" rx="4.2" ry="5.3"/><ellipse cx="703.7" cy="415.3" rx="4.2" ry="5.3"/><ellipse cx="814.2" cy="415.8" rx="4.2" ry="5.3"/><ellipse cx="805.0" cy="421.8" rx="4.2" ry="5.3"/><ellipse cx="644.6" cy="428.3" rx="4.2" ry="5.3"/><ellipse cx="680.3" cy="433.2" rx="4.2" ry="5.3"/><ellipse cx="701.7" cy="450.6" rx="4.2" ry="5.3"/><ellipse cx="697.5" cy="457.5" rx="4.2" ry="5.3"/><ellipse cx="640.9" cy="465.0" rx="4.2" ry="5.3"/><ellipse cx="681.3" cy="466.7" rx="4.2" ry="5.3"/><ellipse cx="682.3" cy="472.9" rx="4.2" ry="5.3"/><ellipse cx="772.7" cy="473.9" rx="4.2" ry="5.3"/><ellipse cx="806.0" cy="481.5" rx="4.2" ry="5.3"/><ellipse cx="648.8" cy="490.1" rx="4.2" ry="5.3"/><ellipse cx="785.5" cy="492.4" rx="4.2" ry="5.3"/><ellipse cx="712.6" cy="498.5" rx="4.2" ry="5.3"/><ellipse cx="715.8" cy="503.5" rx="4.2" ry="5.3"/><ellipse cx="740.2" cy="502.0" rx="4.2" ry="5.3"/><ellipse cx="786.7" cy="503.2" rx="4.2" ry="5.3"/><ellipse cx="701.7" cy="511.4" rx="4.2" ry="5.3"/><ellipse cx="711.6" cy="513.1" rx="4.2" ry="5.3"/><ellipse cx="801.0" cy="514.4" rx="4.2" ry="5.3"/><ellipse cx="793.8" cy="521.7" rx="4.2" ry="5.3"/><ellipse cx="711.6" cy="524.3" rx="4.2" ry="5.3"/><ellipse cx="722.0" cy="527.8" rx="4.2" ry="5.3"/><ellipse cx="772.7" cy="526.8" rx="4.2" ry="5.3"/><ellipse cx="817.5" cy="523.8" rx="4.2" ry="5.3"/><ellipse cx="681.3" cy="544.4" rx="4.2" ry="5.3"/><ellipse cx="738.2" cy="560.0" rx="4.2" ry="5.3"/><ellipse cx="754.3" cy="565.8" rx="4.2" ry="5.3"/><ellipse cx="661.0" cy="580.7" rx="4.2" ry="5.3"/><ellipse cx="732.0" cy="589.9" rx="4.2" ry="5.3"/><ellipse cx="717.8" cy="619.7" rx="4.2" ry="5.3"/><ellipse cx="679.4" cy="678.2" rx="4.2" ry="5.3"/><ellipse cx="790.5" cy="571.8" rx="4.2" ry="5.3"/><ellipse cx="816.1" cy="575.2" rx="4.2" ry="5.3"/><ellipse cx="823.3" cy="585.2" rx="4.2" ry="5.3"/><ellipse cx="817.1" cy="588.6" rx="4.2" ry="5.3"/><ellipse cx="860.2" cy="678.7" rx="4.2" ry="5.3"/><ellipse cx="875.4" cy="678.7" rx="4.2" ry="5.3"/><ellipse cx="888.5" cy="678.7" rx="4.2" ry="5.3"/><ellipse cx="898.7" cy="678.7" rx="4.2" ry="5.3"/><ellipse cx="910.8" cy="678.7" rx="4.2" ry="5.3"/></g>
<g fill="#400a55"><path d="M352.1,501.1L360.7,501.1L356.4,491.9Z"/><path d="M372.4,499.1L381.0,499.1L376.7,489.9Z"/><path d="M382.6,510.8L391.2,510.8L386.9,501.6Z"/><path d="M362.4,525.7L371.0,525.7L366.7,516.5Z"/><path d="M311.7,559.2L320.3,559.2L316.0,550.0Z"/><path d="M329.9,554.2L338.5,554.2L334.2,545.0Z"/><path d="M352.1,555.7L360.7,555.7L356.4,546.5Z"/><path d="M315.6,574.1L324.2,574.1L319.9,564.9Z"/><path d="M317.5,579.0L326.1,579.0L321.8,569.8Z"/><path d="M334.0,575.8L342.6,575.8L338.3,566.6Z"/><path d="M311.7,589.0L320.3,589.0L316.0,579.8Z"/><path d="M352.1,577.5L360.7,577.5L356.4,568.3Z"/><path d="M360.3,577.0L368.9,577.0L364.6,567.8Z"/><path d="M336.1,588.5L344.7,588.5L340.4,579.3Z"/><path d="M360.3,592.7L368.9,592.7L364.6,583.5Z"/><path d="M370.7,598.6L379.3,598.6L375.0,589.4Z"/><path d="M368.4,605.6L377.0,605.6L372.7,596.4Z"/><path d="M281.2,592.7L289.8,592.7L285.5,583.5Z"/><path d="M281.2,600.6L289.8,600.6L285.5,591.4Z"/><path d="M291.3,608.1L299.9,608.1L295.6,598.9Z"/><path d="M295.4,611.3L304.0,611.3L299.7,602.1Z"/><path d="M323.7,601.9L332.3,601.9L328.0,592.7Z"/><path d="M327.8,606.3L336.4,606.3L332.1,597.1Z"/><path d="M332.0,604.6L340.6,604.6L336.3,595.4Z"/><path d="M336.0,611.5L344.6,611.5L340.3,602.3Z"/><path d="M342.0,615.8L350.6,615.8L346.3,606.6Z"/><path d="M356.1,615.8L364.7,615.8L360.4,606.6Z"/><path d="M315.6,619.0L324.2,619.0L319.9,609.8Z"/><path d="M319.7,621.7L328.3,621.7L324.0,612.5Z"/><path d="M287.2,618.7L295.8,618.7L291.5,609.5Z"/><path d="M285.2,622.5L293.8,622.5L289.5,613.3Z"/><path d="M277.2,628.2L285.8,628.2L281.5,619.0Z"/><path d="M291.3,624.9L299.9,624.9L295.6,615.7Z"/><path d="M283.2,641.6L291.8,641.6L287.5,632.4Z"/><path d="M289.3,642.6L297.9,642.6L293.6,633.4Z"/><path d="M287.2,660.4L295.8,660.4L291.5,651.2Z"/><path d="M293.4,655.5L302.0,655.5L297.7,646.3Z"/><path d="M295.5,657.0L304.1,657.0L299.8,647.8Z"/><path d="M281.0,668.4L289.6,668.4L285.3,659.2Z"/><path d="M313.6,646.5L322.2,646.5L317.9,637.3Z"/><path d="M309.5,650.5L318.1,650.5L313.8,641.3Z"/><path d="M311.7,660.4L320.3,660.4L316.0,651.2Z"/><path d="M321.8,641.6L330.4,641.6L326.1,632.4Z"/><path d="M323.9,639.3L332.5,639.3L328.2,630.1Z"/><path d="M326.0,639.8L334.6,639.8L330.3,630.6Z"/><path d="M384.6,621.2L393.2,621.2L388.9,612.0Z"/><path d="M409.0,551.7L417.6,551.7L413.3,542.5Z"/><path d="M481.9,525.4L490.5,525.4L486.2,516.2Z"/><path d="M486.0,538.1L494.6,538.1L490.3,528.9Z"/><path d="M476.0,543.5L484.6,543.5L480.3,534.3Z"/><path d="M484.0,551.7L492.6,551.7L488.3,542.5Z"/><path d="M478.0,556.9L486.6,556.9L482.3,547.7Z"/><path d="M494.1,568.4L502.7,568.4L498.4,559.2Z"/><path d="M480.0,604.3L488.6,604.3L484.3,595.1Z"/><path d="M518.5,539.8L527.1,539.8L522.8,530.6Z"/><path d="M522.6,568.6L531.2,568.6L526.9,559.4Z"/><path d="M520.6,592.2L529.2,592.2L524.9,583.0Z"/><path d="M536.7,533.4L545.3,533.4L541.0,524.2Z"/><path d="M544.9,510.3L553.5,510.3L549.2,501.1Z"/><path d="M366.5,395.7L375.1,395.7L370.8,386.5Z"/><path d="M403.0,399.4L411.6,399.4L407.3,390.2Z"/><path d="M374.6,426.4L383.2,426.4L378.9,417.2Z"/><path d="M370.4,471.1L379.0,471.1L374.7,461.9Z"/><path d="M400.9,466.1L409.5,466.1L405.2,456.9Z"/><path d="M534.6,300.6L543.2,300.6L538.9,291.4Z"/><path d="M484.0,315.5L492.6,315.5L488.3,306.3Z"/><path d="M552.5,351.8L561.1,351.8L556.8,342.6Z"/><path d="M510.5,379.0L519.1,379.0L514.8,369.8Z"/><path d="M469.8,411.0L478.4,411.0L474.1,401.8Z"/><path d="M480.0,419.7L488.6,419.7L484.3,410.5Z"/><path d="M488.0,428.9L496.6,428.9L492.3,419.7Z"/><path d="M486.0,445.3L494.6,445.3L490.3,436.1Z"/><path d="M423.2,436.9L431.8,436.9L427.5,427.7Z"/><path d="M419.0,448.5L427.6,448.5L423.3,439.3Z"/><path d="M518.5,440.6L527.1,440.6L522.8,431.4Z"/><path d="M546.7,434.9L555.3,434.9L551.0,425.7Z"/><path d="M530.6,455.0L539.2,455.0L534.9,445.8Z"/><path d="M540.8,449.3L549.4,449.3L545.1,440.1Z"/><path d="M544.9,473.1L553.5,473.1L549.2,463.9Z"/><path d="M538.7,483.3L547.3,483.3L543.0,474.1Z"/><path d="M536.6,488.6L545.2,488.6L540.9,479.4Z"/><path d="M524.6,485.8L533.2,485.8L528.9,476.6Z"/><path d="M555.0,136.3L563.6,136.3L559.3,127.1Z"/><path d="M482.0,241.6L490.6,241.6L486.3,232.4Z"/><path d="M528.6,280.3L537.2,280.3L532.9,271.1Z"/><path d="M561.2,377.9L569.8,377.9L565.5,368.7Z"/><path d="M579.3,387.0L587.9,387.0L583.6,377.8Z"/><path d="M593.5,450.3L602.1,450.3L597.8,441.1Z"/><path d="M587.4,514.7L596.0,514.7L591.7,505.5Z"/><path d="M557.1,553.8L565.7,553.8L561.4,544.6Z"/><path d="M75.5,682.8L84.1,682.8L79.8,673.6Z"/><path d="M89.5,682.8L98.1,682.8L93.8,673.6Z"/><path d="M91.8,682.8L100.4,682.8L96.1,673.6Z"/><path d="M94.0,682.8L102.6,682.8L98.3,673.6Z"/><path d="M96.5,682.8L105.1,682.8L100.8,673.6Z"/><path d="M98.8,682.8L107.4,682.8L103.1,673.6Z"/><path d="M101.1,682.8L109.7,682.8L105.4,673.6Z"/><path d="M103.3,682.8L111.9,682.8L107.6,673.6Z"/><path d="M106.8,682.8L115.4,682.8L111.1,673.6Z"/><path d="M110.3,682.8L118.9,682.8L114.6,673.6Z"/><path d="M113.8,682.8L122.4,682.8L118.1,673.6Z"/><path d="M116.9,682.8L125.5,682.8L121.2,673.6Z"/><path d="M699.4,270.7L708.0,270.7L703.7,261.5Z"/><path d="M677.3,364.5L685.9,364.5L681.6,355.3Z"/><path d="M786.7,364.9L795.3,364.9L791.0,355.7Z"/><path d="M754.2,378.4L762.8,378.4L758.5,369.2Z"/><path d="M723.4,381.6L732.0,381.6L727.7,372.4Z"/><path d="M711.5,382.8L720.1,382.8L715.8,373.6Z"/><path d="M699.4,392.4L708.0,392.4L703.7,383.2Z"/><path d="M705.6,393.9L714.2,393.9L709.9,384.7Z"/><path d="M683.2,402.1L691.8,402.1L687.5,392.9Z"/><path d="M689.2,402.1L697.8,402.1L693.5,392.9Z"/><path d="M802.9,394.4L811.5,394.4L807.2,385.2Z"/><path d="M770.1,399.8L778.7,399.8L774.4,390.6Z"/><path d="M790.6,409.9L799.2,409.9L794.9,400.7Z"/><path d="M733.9,417.2L742.5,417.2L738.2,408.0Z"/><path d="M756.0,418.7L764.6,418.7L760.3,409.5Z"/><path d="M804.9,430.6L813.5,430.6L809.2,421.4Z"/><path d="M819.0,431.0L827.6,431.0L823.3,421.8Z"/><path d="M800.7,437.3L809.3,437.3L805.0,428.1Z"/><path d="M782.9,438.6L791.5,438.6L787.2,429.4Z"/><path d="M778.6,447.7L787.2,447.7L782.9,438.5Z"/><path d="M784.5,458.3L793.1,458.3L788.8,449.1Z"/><path d="M719.7,449.0L728.3,449.0L724.0,439.8Z"/><path d="M711.5,459.2L720.1,459.2L715.8,450.0Z"/><path d="M703.3,476.3L711.9,476.3L707.6,467.1Z"/><path d="M733.9,483.7L742.5,483.7L738.2,474.5Z"/><path d="M754.2,480.3L762.8,480.3L758.5,471.1Z"/><path d="M757.0,480.8L765.6,480.8L761.3,471.6Z"/><path d="M824.7,490.6L833.3,490.6L829.0,481.4Z"/><path d="M758.0,496.1L766.6,496.1L762.3,486.9Z"/><path d="M724.0,498.6L732.6,498.6L728.3,489.4Z"/><path d="M599.8,498.1L608.4,498.1L604.1,488.9Z"/><path d="M717.7,506.1L726.3,506.1L722.0,496.9Z"/><path d="M804.9,507.6L813.5,507.6L809.2,498.4Z"/><path d="M764.4,515.3L773.0,515.3L768.7,506.1Z"/><path d="M604.1,521.5L612.7,521.5L608.4,512.3Z"/><path d="M670.8,522.7L679.4,522.7L675.1,513.5Z"/><path d="M758.0,526.4L766.6,526.4L762.3,517.2Z"/><path d="M811.0,528.7L819.6,528.7L815.3,519.5Z"/><path d="M761.9,532.6L770.5,532.6L766.2,523.4Z"/><path d="M764.9,532.6L773.5,532.6L769.2,523.4Z"/><path d="M782.6,534.9L791.2,534.9L786.9,525.7Z"/><path d="M750.0,555.2L758.6,555.2L754.3,546.0Z"/><path d="M788.7,555.1L797.3,555.1L793.0,545.9Z"/><path d="M824.7,549.8L833.3,549.8L829.0,540.6Z"/><path d="M752.0,563.5L760.6,563.5L756.3,554.3Z"/><path d="M778.6,566.6L787.2,566.6L782.9,557.4Z"/><path d="M727.7,572.4L736.3,572.4L732.0,563.2Z"/><path d="M784.5,573.9L793.1,573.9L788.8,564.7Z"/><path d="M792.4,576.9L801.0,576.9L796.7,567.7Z"/><path d="M701.6,584.3L710.2,584.3L705.9,575.1Z"/><path d="M689.2,593.0L697.8,593.0L693.5,583.8Z"/><path d="M790.5,598.0L799.1,598.0L794.8,588.8Z"/><path d="M689.2,625.3L697.8,625.3L693.5,616.1Z"/><path d="M766.1,632.7L774.7,632.7L770.4,623.5Z"/><path d="M794.7,634.0L803.3,634.0L799.0,624.8Z"/><path d="M774.3,643.4L782.9,643.4L778.6,634.2Z"/><path d="M831.5,452.1L840.1,452.1L835.8,442.9Z"/><path d="M855.7,529.3L864.3,529.3L860.0,520.1Z"/><path d="M859.0,682.4L867.6,682.4L863.3,673.2Z"/><path d="M868.3,682.4L876.9,682.4L872.6,673.2Z"/><path d="M872.1,682.4L880.7,682.4L876.4,673.2Z"/><path d="M875.7,682.4L884.3,682.4L880.0,673.2Z"/><path d="M881.4,682.4L890.0,682.4L885.7,673.2Z"/><path d="M885.1,682.4L893.7,682.4L889.4,673.2Z"/><path d="M888.7,682.4L897.3,682.4L893.0,673.2Z"/><path d="M892.5,682.4L901.1,682.4L896.8,673.2Z"/><path d="M896.3,682.4L904.9,682.4L900.6,673.2Z"/><path d="M900.0,682.4L908.6,682.4L904.3,673.2Z"/><path d="M870.2,682.4L878.8,682.4L874.5,673.2Z"/><path d="M873.9,682.4L882.5,682.4L878.2,673.2Z"/><path d="M878.5,682.4L887.1,682.4L882.8,673.2Z"/><path d="M883.2,682.4L891.8,682.4L887.5,673.2Z"/><path d="M886.9,682.4L895.5,682.4L891.2,673.2Z"/><path d="M890.7,682.4L899.3,682.4L895.0,673.2Z"/><path d="M894.4,682.4L903.0,682.4L898.7,673.2Z"/><path d="M898.2,682.4L906.8,682.4L902.5,673.2Z"/></g>
<path d="M50.6,74.5 V746" fill="none" stroke="#2e2e2e" stroke-width="0.9"/>
<path d="M50.15,745.3 H963" fill="none" stroke="#2e2e2e" stroke-width="1.4"/>
<path d="M48.4,75 H50.6" stroke="#2e2e2e" stroke-width="1"/>
<path d="M48.4,226 H50.6" stroke="#2e2e2e" stroke-width="1"/>
<path d="M48.4,377 H50.6" stroke="#2e2e2e" stroke-width="1"/>
<path d="M48.4,528 H50.6" stroke="#2e2e2e" stroke-width="1"/>
<path d="M48.4,679 H50.6" stroke="#2e2e2e" stroke-width="1"/>
<path d="M51,745.3 V747.6" stroke="#2e2e2e" stroke-width="1"/>
<path d="M152,745.3 V747.6" stroke="#2e2e2e" stroke-width="1"/>
<path d="M253.3,745.3 V747.6" stroke="#2e2e2e" stroke-width="1"/>
<path d="M354.6,745.3 V747.6" stroke="#2e2e2e" stroke-width="1"/>
<path d="M456.6,745.3 V747.6" stroke="#2e2e2e" stroke-width="1"/>
<path d="M557.6,745.3 V747.6" stroke="#2e2e2e" stroke-width="1"/>
<path d="M659,745.3 V747.6" stroke="#2e2e2e" stroke-width="1"/>
<path d="M761,745.3 V747.6" stroke="#2e2e2e" stroke-width="1"/>
<path d="M861.8,745.3 V747.6" stroke="#2e2e2e" stroke-width="1"/>
<path d="M949.1,745.3 V747.6" stroke="#2e2e2e" stroke-width="1"/>
<path d="M90.5,1441.1 L94.3,1441.0 L98.1,1440.8 L101.9,1440.7 L105.8,1440.6 L109.6,1440.4 L113.4,1440.3 L117.2,1440.1 L121.0,1439.9 L124.8,1439.7 L128.6,1439.5 L132.5,1439.3 L136.3,1439.1 L140.1,1438.9 L143.9,1438.7 L147.7,1438.4 L151.5,1438.2 L155.3,1437.9 L159.1,1437.6 L163.0,1437.3 L166.8,1437.0 L170.6,1436.7 L174.4,1436.4 L178.2,1436.1 L182.0,1435.8 L185.8,1435.4 L189.7,1435.0 L193.5,1434.7 L197.3,1434.3 L201.1,1433.9 L204.9,1433.5 L208.7,1433.1 L212.5,1432.7 L216.4,1432.2 L220.2,1431.8 L224.0,1431.3 L227.8,1430.8 L231.6,1430.3 L235.4,1429.8 L239.2,1429.3 L243.0,1428.8 L246.9,1428.3 L250.7,1427.7 L254.5,1427.1 L258.3,1426.6 L262.1,1426.0 L265.9,1425.4 L269.7,1424.8 L273.6,1424.1 L277.4,1423.5 L281.2,1422.8 L285.0,1422.1 L288.8,1421.4 L292.6,1420.7 L296.4,1420.0 L300.3,1419.2 L304.1,1418.5 L307.9,1417.7 L311.7,1416.9 L315.5,1416.1 L319.3,1415.3 L323.1,1414.4 L326.9,1413.6 L330.8,1412.7 L334.6,1411.8 L338.4,1410.9 L342.2,1409.9 L346.0,1409.0 L349.8,1408.0 L353.6,1407.0 L357.5,1406.0 L361.3,1404.9 L365.1,1403.9 L368.9,1402.8 L372.7,1401.7 L376.5,1400.6 L380.3,1399.5 L384.2,1398.3 L388.0,1397.1 L391.8,1395.9 L395.6,1394.7 L399.4,1393.4 L403.2,1392.2 L407.0,1390.9 L410.9,1389.6 L414.7,1388.2 L418.5,1386.9 L422.3,1385.5 L426.1,1384.1 L429.9,1382.7 L433.7,1381.2 L437.5,1379.7 L441.4,1378.2 L445.2,1376.7 L449.0,1375.2 L452.8,1373.6 L456.6,1372.0 L460.4,1370.4 L464.2,1368.8 L468.1,1367.1 L471.9,1365.4 L475.7,1363.7 L479.5,1362.0 L483.3,1360.2 L487.1,1358.5 L490.9,1356.7 L494.8,1354.8 L498.6,1353.0 L502.4,1351.1 L506.2,1349.2 L510.0,1347.2 L513.8,1345.3 L517.6,1343.3 L521.4,1341.3 L525.3,1339.3 L529.1,1337.2 L532.9,1335.2 L536.7,1333.1 L540.5,1331.0 L544.3,1328.9 L548.1,1326.8 L552.0,1324.6 L555.8,1322.5 L559.6,1320.3 L563.4,1318.1 L567.2,1316.0 L571.0,1313.8 L574.8,1311.6 L578.7,1309.4 L582.5,1307.2 L586.3,1305.0 L590.1,1302.8 L593.9,1300.6 L597.7,1298.5 L601.5,1296.3 L605.3,1294.1 L609.2,1291.9 L613.0,1289.8 L616.8,1287.6 L620.6,1285.5 L624.4,1283.3 L628.2,1281.2 L632.0,1279.1 L635.9,1277.0 L639.7,1274.9 L643.5,1272.9 L647.3,1270.8 L651.1,1268.8 L654.9,1266.8 L658.7,1264.8 L662.6,1262.8 L666.4,1260.9 L670.2,1259.0 L674.0,1257.1 L677.8,1255.2 L681.6,1253.3 L685.4,1251.5 L689.3,1249.7 L693.1,1247.8 L696.9,1246.1 L700.7,1244.3 L704.5,1242.5 L708.3,1240.8 L712.1,1239.1 L715.9,1237.4 L719.8,1235.7 L723.6,1234.0 L727.4,1232.4 L731.2,1230.7 L735.0,1229.1 L738.8,1227.5 L742.6,1225.9 L746.5,1224.4 L750.3,1222.8 L754.1,1221.3 L757.9,1219.8 L761.7,1218.3 L765.5,1216.8 L769.3,1215.3 L773.2,1213.9 L777.0,1212.5 L780.8,1211.0 L784.6,1209.6 L788.4,1208.2 L792.2,1206.9 L796.0,1205.5 L799.8,1204.2 L803.7,1202.8 L807.5,1201.5 L811.3,1200.2 L815.1,1198.8 L818.9,1197.5 L822.7,1196.2 L826.5,1194.9 L830.4,1193.6 L834.2,1192.3 L838.0,1191.0 L841.8,1189.6 L845.6,1188.3 L849.4,1187.0 L853.2,1185.6 L857.1,1184.3 L860.9,1182.9 L864.7,1181.5 L868.5,1180.1 L872.3,1178.7 L876.1,1177.3 L879.9,1175.8 L883.7,1174.3 L887.6,1172.8 L891.4,1171.3 L895.2,1169.8 L899.0,1168.2 L902.8,1166.6 L906.6,1164.9 L910.4,1163.3 L914.3,1161.6 L918.1,1159.8 L921.9,1158.1 L925.7,1156.3 L925.7,1265.8 L921.9,1266.0 L918.1,1266.2 L914.3,1266.5 L910.4,1266.8 L906.6,1267.2 L902.8,1267.6 L899.0,1268.1 L895.2,1268.6 L891.4,1269.2 L887.6,1269.8 L883.7,1270.4 L879.9,1271.1 L876.1,1271.8 L872.3,1272.6 L868.5,1273.4 L864.7,1274.2 L860.9,1275.1 L857.1,1276.0 L853.2,1276.9 L849.4,1277.9 L845.6,1278.9 L841.8,1279.9 L838.0,1280.9 L834.2,1282.0 L830.4,1283.1 L826.5,1284.2 L822.7,1285.4 L818.9,1286.5 L815.1,1287.7 L811.3,1288.9 L807.5,1290.2 L803.7,1291.4 L799.8,1292.7 L796.0,1293.9 L792.2,1295.2 L788.4,1296.5 L784.6,1297.8 L780.8,1299.2 L777.0,1300.5 L773.2,1301.8 L769.3,1303.2 L765.5,1304.6 L761.7,1305.9 L757.9,1307.3 L754.1,1308.7 L750.3,1310.2 L746.5,1311.6 L742.6,1313.1 L738.8,1314.5 L735.0,1316.0 L731.2,1317.5 L727.4,1319.0 L723.6,1320.6 L719.8,1322.1 L715.9,1323.7 L712.1,1325.3 L708.3,1326.9 L704.5,1328.5 L700.7,1330.1 L696.9,1331.8 L693.1,1333.5 L689.3,1335.2 L685.4,1336.9 L681.6,1338.6 L677.8,1340.4 L674.0,1342.2 L670.2,1344.0 L666.4,1345.8 L662.6,1347.7 L658.7,1349.6 L654.9,1351.5 L651.1,1353.4 L647.3,1355.3 L643.5,1357.3 L639.7,1359.3 L635.9,1361.3 L632.0,1363.4 L628.2,1365.5 L624.4,1367.5 L620.6,1369.6 L616.8,1371.7 L613.0,1373.9 L609.2,1376.0 L605.3,1378.2 L601.5,1380.3 L597.7,1382.5 L593.9,1384.7 L590.1,1386.9 L586.3,1389.1 L582.5,1391.3 L578.7,1393.5 L574.8,1395.7 L571.0,1397.9 L567.2,1400.1 L563.4,1402.3 L559.6,1404.5 L555.8,1406.7 L552.0,1408.9 L548.1,1411.0 L544.3,1413.2 L540.5,1415.4 L536.7,1417.5 L532.9,1419.7 L529.1,1421.8 L525.3,1423.9 L521.4,1426.0 L517.6,1428.0 L513.8,1430.1 L510.0,1432.1 L506.2,1434.1 L502.4,1436.1 L498.6,1438.1 L494.8,1440.0 L490.9,1442.0 L487.1,1443.9 L483.3,1445.7 L479.5,1447.6 L475.7,1449.4 L471.9,1451.2 L468.1,1453.0 L464.2,1454.8 L460.4,1456.5 L456.6,1458.3 L452.8,1460.0 L449.0,1461.6 L445.2,1463.3 L441.4,1464.9 L437.5,1466.5 L433.7,1468.1 L429.9,1469.7 L426.1,1471.2 L422.3,1472.8 L418.5,1474.3 L414.7,1475.7 L410.9,1477.2 L407.0,1478.6 L403.2,1480.0 L399.4,1481.4 L395.6,1482.8 L391.8,1484.1 L388.0,1485.5 L384.2,1486.8 L380.3,1488.0 L376.5,1489.3 L372.7,1490.5 L368.9,1491.7 L365.1,1492.9 L361.3,1494.1 L357.5,1495.2 L353.6,1496.4 L349.8,1497.5 L346.0,1498.5 L342.2,1499.6 L338.4,1500.6 L334.6,1501.7 L330.8,1502.7 L326.9,1503.7 L323.1,1504.6 L319.3,1505.6 L315.5,1506.5 L311.7,1507.4 L307.9,1508.3 L304.1,1509.2 L300.3,1510.1 L296.4,1510.9 L292.6,1511.8 L288.8,1512.6 L285.0,1513.4 L281.2,1514.2 L277.4,1514.9 L273.6,1515.7 L269.7,1516.4 L265.9,1517.2 L262.1,1517.9 L258.3,1518.6 L254.5,1519.3 L250.7,1520.0 L246.9,1520.7 L243.0,1521.3 L239.2,1522.0 L235.4,1522.6 L231.6,1523.3 L227.8,1523.9 L224.0,1524.5 L220.2,1525.1 L216.4,1525.7 L212.5,1526.3 L208.7,1526.9 L204.9,1527.5 L201.1,1528.1 L197.3,1528.6 L193.5,1529.2 L189.7,1529.8 L185.8,1530.4 L182.0,1530.9 L178.2,1531.5 L174.4,1532.1 L170.6,1532.7 L166.8,1533.3 L163.0,1533.9 L159.1,1534.4 L155.3,1535.0 L151.5,1535.7 L147.7,1536.3 L143.9,1536.9 L140.1,1537.5 L136.3,1538.2 L132.5,1538.8 L128.6,1539.5 L124.8,1540.2 L121.0,1540.9 L117.2,1541.6 L113.4,1542.3 L109.6,1543.1 L105.8,1543.9 L101.9,1544.6 L98.1,1545.4 L94.3,1546.3 L90.5,1547.1Z" fill="#d7d7d7"/>
<path d="M90.5,1445.1 L94.3,1445.0 L98.1,1444.9 L101.9,1444.9 L105.8,1444.8 L109.6,1444.7 L113.4,1444.5 L117.2,1444.4 L121.0,1444.2 L124.8,1444.1 L128.6,1443.9 L132.5,1443.7 L136.3,1443.5 L140.1,1443.3 L143.9,1443.0 L147.7,1442.8 L151.5,1442.5 L155.3,1442.3 L159.1,1442.0 L163.0,1441.7 L166.8,1441.4 L170.6,1441.1 L174.4,1440.7 L178.2,1440.4 L182.0,1440.0 L185.8,1439.7 L189.7,1439.3 L193.5,1438.9 L197.3,1438.5 L201.1,1438.1 L204.9,1437.6 L208.7,1437.2 L212.5,1436.7 L216.4,1436.2 L220.2,1435.8 L224.0,1435.3 L227.8,1434.8 L231.6,1434.2 L235.4,1433.7 L239.2,1433.2 L243.0,1432.6 L246.9,1432.0 L250.7,1431.4 L254.5,1430.8 L258.3,1430.2 L262.1,1429.6 L265.9,1429.0 L269.7,1428.3 L273.6,1427.6 L277.4,1426.9 L281.2,1426.2 L285.0,1425.5 L288.8,1424.8 L292.6,1424.0 L296.4,1423.3 L300.3,1422.5 L304.1,1421.7 L307.9,1420.9 L311.7,1420.0 L315.5,1419.2 L319.3,1418.3 L323.1,1417.4 L326.9,1416.5 L330.8,1415.6 L334.6,1414.7 L338.4,1413.7 L342.2,1412.7 L346.0,1411.7 L349.8,1410.7 L353.6,1409.7 L357.5,1408.6 L361.3,1407.5 L365.1,1406.4 L368.9,1405.3 L372.7,1404.1 L376.5,1403.0 L380.3,1401.8 L384.2,1400.6 L388.0,1399.4 L391.8,1398.1 L395.6,1396.8 L399.4,1395.5 L403.2,1394.2 L407.0,1392.9 L410.9,1391.5 L414.7,1390.1 L418.5,1388.7 L422.3,1387.3 L426.1,1385.9 L429.9,1384.4 L433.7,1382.9 L437.5,1381.4 L441.4,1379.8 L445.2,1378.3 L449.0,1376.7 L452.8,1375.1 L456.6,1373.5 L460.4,1371.8 L464.2,1370.1 L468.1,1368.4 L471.9,1366.7 L475.7,1365.0 L479.5,1363.2 L483.3,1361.4 L487.1,1359.6 L490.9,1357.8 L494.8,1355.9 L498.6,1354.0 L502.4,1352.1 L506.2,1350.2 L510.0,1348.2 L513.8,1346.2 L517.6,1344.3 L521.4,1342.2 L525.3,1340.2 L529.1,1338.1 L532.9,1336.1 L536.7,1334.0 L540.5,1331.9 L544.3,1329.7 L548.1,1327.6 L552.0,1325.5 L555.8,1323.3 L559.6,1321.2 L563.4,1319.0 L567.2,1316.8 L571.0,1314.6 L574.8,1312.4 L578.7,1310.3 L582.5,1308.1 L586.3,1305.9 L590.1,1303.7 L593.9,1301.5 L597.7,1299.3 L601.5,1297.1 L605.3,1295.0 L609.2,1292.8 L613.0,1290.6 L616.8,1288.5 L620.6,1286.3 L624.4,1284.2 L628.2,1282.1 L632.0,1280.0 L635.9,1277.9 L639.7,1275.8 L643.5,1273.7 L647.3,1271.7 L651.1,1269.7 L654.9,1267.7 L658.7,1265.7 L662.6,1263.7 L666.4,1261.8 L670.2,1259.9 L674.0,1258.0 L677.8,1256.1 L681.6,1254.2 L685.4,1252.4 L689.3,1250.6 L693.1,1248.7 L696.9,1247.0 L700.7,1245.2 L704.5,1243.5 L708.3,1241.7 L712.1,1240.0 L715.9,1238.4 L719.8,1236.7 L723.6,1235.1 L727.4,1233.4 L731.2,1231.9 L735.0,1230.3 L738.8,1228.7 L742.6,1227.2 L746.5,1225.7 L750.3,1224.2 L754.1,1222.7 L757.9,1221.3 L761.7,1219.8 L765.5,1218.4 L769.3,1217.0 L773.2,1215.7 L777.0,1214.3 L780.8,1213.0 L784.6,1211.7 L788.4,1210.4 L792.2,1209.2 L796.0,1208.0 L799.8,1206.7 L803.7,1205.5 L807.5,1204.3 L811.3,1203.2 L815.1,1202.0 L818.9,1200.8 L822.7,1199.7 L826.5,1198.5 L830.4,1197.4 L834.2,1196.2 L838.0,1195.1 L841.8,1193.9 L845.6,1192.8 L849.4,1191.6 L853.2,1190.5 L857.1,1189.3 L860.9,1188.1 L864.7,1186.9 L868.5,1185.6 L872.3,1184.4 L876.1,1183.1 L879.9,1181.9 L883.7,1180.5 L887.6,1179.2 L891.4,1177.9 L895.2,1176.5 L899.0,1175.0 L902.8,1173.6 L906.6,1172.1 L910.4,1170.6 L914.3,1169.0 L918.1,1167.4 L921.9,1165.8 L925.7,1164.1 L925.7,1265.8 L921.9,1266.0 L918.1,1266.3 L914.3,1266.7 L910.4,1267.0 L906.6,1267.4 L902.8,1267.8 L899.0,1268.3 L895.2,1268.8 L891.4,1269.4 L887.6,1269.9 L883.7,1270.5 L879.9,1271.2 L876.1,1271.8 L872.3,1272.5 L868.5,1273.3 L864.7,1274.0 L860.9,1274.8 L857.1,1275.7 L853.2,1276.5 L849.4,1277.4 L845.6,1278.3 L841.8,1279.2 L838.0,1280.2 L834.2,1281.2 L830.4,1282.2 L826.5,1283.2 L822.7,1284.3 L818.9,1285.4 L815.1,1286.5 L811.3,1287.6 L807.5,1288.8 L803.7,1289.9 L799.8,1291.1 L796.0,1292.3 L792.2,1293.6 L788.4,1294.8 L784.6,1296.1 L780.8,1297.4 L777.0,1298.7 L773.2,1300.0 L769.3,1301.4 L765.5,1302.8 L761.7,1304.1 L757.9,1305.5 L754.1,1307.0 L750.3,1308.4 L746.5,1309.9 L742.6,1311.4 L738.8,1312.9 L735.0,1314.4 L731.2,1315.9 L727.4,1317.5 L723.6,1319.0 L719.8,1320.6 L715.9,1322.3 L712.1,1323.9 L708.3,1325.6 L704.5,1327.2 L700.7,1328.9 L696.9,1330.6 L693.1,1332.4 L689.3,1334.1 L685.4,1335.9 L681.6,1337.7 L677.8,1339.5 L674.0,1341.4 L670.2,1343.2 L666.4,1345.1 L662.6,1347.0 L658.7,1348.9 L654.9,1350.9 L651.1,1352.8 L647.3,1354.8 L643.5,1356.8 L639.7,1358.9 L635.9,1360.9 L632.0,1363.0 L628.2,1365.0 L624.4,1367.1 L620.6,1369.2 L616.8,1371.4 L613.0,1373.5 L609.2,1375.6 L605.3,1377.8 L601.5,1379.9 L597.7,1382.1 L593.9,1384.3 L590.1,1386.5 L586.3,1388.6 L582.5,1390.8 L578.7,1393.0 L574.8,1395.2 L571.0,1397.4 L567.2,1399.6 L563.4,1401.7 L559.6,1403.9 L555.8,1406.1 L552.0,1408.2 L548.1,1410.4 L544.3,1412.5 L540.5,1414.7 L536.7,1416.8 L532.9,1418.9 L529.1,1421.0 L525.3,1423.1 L521.4,1425.1 L517.6,1427.2 L513.8,1429.2 L510.0,1431.2 L506.2,1433.2 L502.4,1435.1 L498.6,1437.1 L494.8,1439.0 L490.9,1440.9 L487.1,1442.7 L483.3,1444.6 L479.5,1446.4 L475.7,1448.2 L471.9,1450.0 L468.1,1451.7 L464.2,1453.5 L460.4,1455.2 L456.6,1456.9 L452.8,1458.5 L449.0,1460.2 L445.2,1461.8 L441.4,1463.4 L437.5,1465.0 L433.7,1466.5 L429.9,1468.0 L426.1,1469.5 L422.3,1471.0 L418.5,1472.5 L414.7,1473.9 L410.9,1475.3 L407.0,1476.7 L403.2,1478.0 L399.4,1479.4 L395.6,1480.7 L391.8,1482.0 L388.0,1483.2 L384.2,1484.5 L380.3,1485.7 L376.5,1486.8 L372.7,1488.0 L368.9,1489.1 L365.1,1490.2 L361.3,1491.3 L357.5,1492.4 L353.6,1493.4 L349.8,1494.4 L346.0,1495.4 L342.2,1496.4 L338.4,1497.3 L334.6,1498.3 L330.8,1499.2 L326.9,1500.0 L323.1,1500.9 L319.3,1501.8 L315.5,1502.6 L311.7,1503.4 L307.9,1504.2 L304.1,1505.0 L300.3,1505.8 L296.4,1506.5 L292.6,1507.3 L288.8,1508.0 L285.0,1508.7 L281.2,1509.4 L277.4,1510.1 L273.6,1510.8 L269.7,1511.4 L265.9,1512.1 L262.1,1512.7 L258.3,1513.4 L254.5,1514.0 L250.7,1514.6 L246.9,1515.2 L243.0,1515.9 L239.2,1516.5 L235.4,1517.1 L231.6,1517.7 L227.8,1518.2 L224.0,1518.8 L220.2,1519.4 L216.4,1520.0 L212.5,1520.6 L208.7,1521.1 L204.9,1521.7 L201.1,1522.3 L197.3,1522.8 L193.5,1523.4 L189.7,1523.9 L185.8,1524.5 L182.0,1525.0 L178.2,1525.6 L174.4,1526.1 L170.6,1526.6 L166.8,1527.2 L163.0,1527.7 L159.1,1528.2 L155.3,1528.7 L151.5,1529.2 L147.7,1529.8 L143.9,1530.3 L140.1,1530.8 L136.3,1531.3 L132.5,1531.7 L128.6,1532.2 L124.8,1532.7 L121.0,1533.2 L117.2,1533.7 L113.4,1534.1 L109.6,1534.6 L105.8,1535.1 L101.9,1535.5 L98.1,1536.0 L94.3,1536.4 L90.5,1536.8Z" fill="#b6b6b6"/>
<g transform="scale(1,1.26)"><path d="M90.5,1181.6 L94.3,1181.5 L98.1,1181.5 L101.9,1181.5 L105.8,1181.4 L109.6,1181.3 L113.4,1181.1 L117.2,1181.0 L121.0,1180.8 L124.8,1180.6 L128.6,1180.4 L132.5,1180.2 L136.3,1180.0 L140.1,1179.7 L143.9,1179.4 L147.7,1179.1 L151.5,1178.8 L155.3,1178.5 L159.1,1178.1 L163.0,1177.8 L166.8,1177.4 L170.6,1177.0 L174.4,1176.6 L178.2,1176.2 L182.0,1175.8 L185.8,1175.4 L189.7,1174.9 L193.5,1174.5 L197.3,1174.1 L201.1,1173.6 L204.9,1173.1 L208.7,1172.7 L212.5,1172.2 L216.4,1171.7 L220.2,1171.2 L224.0,1170.7 L227.8,1170.3 L231.6,1169.8 L235.4,1169.3 L239.2,1168.8 L243.0,1168.3 L246.9,1167.8 L250.7,1167.3 L254.5,1166.8 L258.3,1166.3 L262.1,1165.8 L265.9,1165.3 L269.7,1164.7 L273.6,1164.2 L277.4,1163.7 L281.2,1163.1 L285.0,1162.6 L288.8,1162.0 L292.6,1161.4 L296.4,1160.8 L300.3,1160.2 L304.1,1159.6 L307.9,1159.0 L311.7,1158.4 L315.5,1157.8 L319.3,1157.1 L323.1,1156.4 L326.9,1155.8 L330.8,1155.1 L334.6,1154.4 L338.4,1153.6 L342.2,1152.9 L346.0,1152.1 L349.8,1151.4 L353.6,1150.6 L357.5,1149.8 L361.3,1148.9 L365.1,1148.1 L368.9,1147.2 L372.7,1146.4 L376.5,1145.5 L380.3,1144.5 L384.2,1143.6 L388.0,1142.6 L391.8,1141.6 L395.6,1140.6 L399.4,1139.6 L403.2,1138.6 L407.0,1137.5 L410.9,1136.4 L414.7,1135.4 L418.5,1134.2 L422.3,1133.1 L426.1,1131.9 L429.9,1130.8 L433.7,1129.6 L437.5,1128.4 L441.4,1127.1 L445.2,1125.9 L449.0,1124.6 L452.8,1123.4 L456.6,1122.0 L460.4,1120.7 L464.2,1119.4 L468.1,1118.0 L471.9,1116.7 L475.7,1115.3 L479.5,1113.9 L483.3,1112.4 L487.1,1111.0 L490.9,1109.5 L494.8,1108.0 L498.6,1106.6 L502.4,1105.0 L506.2,1103.5 L510.0,1102.0 L513.8,1100.4 L517.6,1098.8 L521.4,1097.2 L525.3,1095.6 L529.1,1094.0 L532.9,1092.3 L536.7,1090.7 L540.5,1089.0 L544.3,1087.4 L548.1,1085.7 L552.0,1084.0 L555.8,1082.3 L559.6,1080.6 L563.4,1078.9 L567.2,1077.2 L571.0,1075.5 L574.8,1073.8 L578.7,1072.1 L582.5,1070.4 L586.3,1068.7 L590.1,1067.0 L593.9,1065.3 L597.7,1063.6 L601.5,1061.9 L605.3,1060.2 L609.2,1058.6 L613.0,1056.9 L616.8,1055.2 L620.6,1053.6 L624.4,1051.9 L628.2,1050.3 L632.0,1048.7 L635.9,1047.1 L639.7,1045.5 L643.5,1043.9 L647.3,1042.4 L651.1,1040.8 L654.9,1039.3 L658.7,1037.8 L662.6,1036.3 L666.4,1034.8 L670.2,1033.4 L674.0,1031.9 L677.8,1030.5 L681.6,1029.1 L685.4,1027.7 L689.3,1026.3 L693.1,1024.9 L696.9,1023.6 L700.7,1022.2 L704.5,1020.9 L708.3,1019.6 L712.1,1018.3 L715.9,1017.1 L719.8,1015.8 L723.6,1014.6 L727.4,1013.3 L731.2,1012.1 L735.0,1010.9 L738.8,1009.7 L742.6,1008.5 L746.5,1007.4 L750.3,1006.2 L754.1,1005.1 L757.9,1004.0 L761.7,1002.9 L765.5,1001.8 L769.3,1000.7 L773.2,999.6 L777.0,998.6 L780.8,997.5 L784.6,996.5 L788.4,995.5 L792.2,994.5 L796.0,993.5 L799.8,992.5 L803.7,991.5 L807.5,990.6 L811.3,989.6 L815.1,988.7 L818.9,987.8 L822.7,986.9 L826.5,986.0 L830.4,985.1 L834.2,984.2 L838.0,983.3 L841.8,982.4 L845.6,981.6 L849.4,980.7 L853.2,979.9 L857.1,979.0 L860.9,978.2 L864.7,977.4 L868.5,976.6 L872.3,975.8 L876.1,975.0 L879.9,974.2 L883.7,973.4 L887.6,972.6 L891.4,971.9 L895.2,971.1 L899.0,970.4 L902.8,969.6 L906.6,968.9 L910.4,968.1 L914.3,967.4 L918.1,966.7 L921.9,965.9 L925.7,965.2" fill="none" stroke="#3c0f50" stroke-width="4.3" stroke-linejoin="round"/></g>
<g transform="scale(1,1.26)"><path d="M90.5,1187.3 L94.3,1187.2 L98.1,1187.1 L101.9,1186.9 L105.8,1186.7 L109.6,1186.5 L113.4,1186.3 L117.2,1186.1 L121.0,1185.8 L124.8,1185.6 L128.6,1185.3 L132.5,1185.0 L136.3,1184.6 L140.1,1184.3 L143.9,1184.0 L147.7,1183.6 L151.5,1183.2 L155.3,1182.8 L159.1,1182.4 L163.0,1182.0 L166.8,1181.6 L170.6,1181.1 L174.4,1180.7 L178.2,1180.2 L182.0,1179.8 L185.8,1179.3 L189.7,1178.8 L193.5,1178.3 L197.3,1177.8 L201.1,1177.4 L204.9,1176.9 L208.7,1176.4 L212.5,1175.8 L216.4,1175.3 L220.2,1174.8 L224.0,1174.3 L227.8,1173.8 L231.6,1173.3 L235.4,1172.8 L239.2,1172.3 L243.0,1171.8 L246.9,1171.3 L250.7,1170.7 L254.5,1170.2 L258.3,1169.7 L262.1,1169.2 L265.9,1168.7 L269.7,1168.1 L273.6,1167.6 L277.4,1167.0 L281.2,1166.5 L285.0,1165.9 L288.8,1165.3 L292.6,1164.8 L296.4,1164.2 L300.3,1163.6 L304.1,1163.0 L307.9,1162.4 L311.7,1161.7 L315.5,1161.1 L319.3,1160.4 L323.1,1159.8 L326.9,1159.1 L330.8,1158.4 L334.6,1157.7 L338.4,1156.9 L342.2,1156.2 L346.0,1155.4 L349.8,1154.6 L353.6,1153.8 L357.5,1153.0 L361.3,1152.2 L365.1,1151.3 L368.9,1150.4 L372.7,1149.5 L376.5,1148.6 L380.3,1147.7 L384.2,1146.7 L388.0,1145.7 L391.8,1144.7 L395.6,1143.7 L399.4,1142.6 L403.2,1141.5 L407.0,1140.4 L410.9,1139.3 L414.7,1138.2 L418.5,1137.0 L422.3,1135.9 L426.1,1134.7 L429.9,1133.5 L433.7,1132.2 L437.5,1131.0 L441.4,1129.7 L445.2,1128.4 L449.0,1127.1 L452.8,1125.8 L456.6,1124.4 L460.4,1123.0 L464.2,1121.6 L468.1,1120.2 L471.9,1118.8 L475.7,1117.4 L479.5,1115.9 L483.3,1114.4 L487.1,1112.9 L490.9,1111.4 L494.8,1109.9 L498.6,1108.3 L502.4,1106.8 L506.2,1105.2 L510.0,1103.6 L513.8,1101.9 L517.6,1100.3 L521.4,1098.7 L525.3,1097.0 L529.1,1095.3 L532.9,1093.6 L536.7,1091.9 L540.5,1090.2 L544.3,1088.5 L548.1,1086.7 L552.0,1085.0 L555.8,1083.3 L559.6,1081.5 L563.4,1079.8 L567.2,1078.0 L571.0,1076.2 L574.8,1074.5 L578.7,1072.7 L582.5,1071.0 L586.3,1069.2 L590.1,1067.4 L593.9,1065.7 L597.7,1063.9 L601.5,1062.2 L605.3,1060.4 L609.2,1058.7 L613.0,1057.0 L616.8,1055.3 L620.6,1053.6 L624.4,1051.9 L628.2,1050.2 L632.0,1048.5 L635.9,1046.9 L639.7,1045.2 L643.5,1043.6 L647.3,1042.0 L651.1,1040.4 L654.9,1038.8 L658.7,1037.3 L662.6,1035.7 L666.4,1034.2 L670.2,1032.7 L674.0,1031.2 L677.8,1029.7 L681.6,1028.3 L685.4,1026.8 L689.3,1025.4 L693.1,1024.0 L696.9,1022.6 L700.7,1021.2 L704.5,1019.9 L708.3,1018.5 L712.1,1017.2 L715.9,1015.9 L719.8,1014.5 L723.6,1013.3 L727.4,1012.0 L731.2,1010.7 L735.0,1009.5 L738.8,1008.2 L742.6,1007.0 L746.5,1005.8 L750.3,1004.6 L754.1,1003.4 L757.9,1002.2 L761.7,1001.1 L765.5,999.9 L769.3,998.8 L773.2,997.7 L777.0,996.6 L780.8,995.5 L784.6,994.4 L788.4,993.3 L792.2,992.2 L796.0,991.2 L799.8,990.1 L803.7,989.1 L807.5,988.0 L811.3,987.0 L815.1,986.0 L818.9,985.0 L822.7,984.1 L826.5,983.1 L830.4,982.1 L834.2,981.2 L838.0,980.2 L841.8,979.3 L845.6,978.4 L849.4,977.5 L853.2,976.6 L857.1,975.7 L860.9,974.8 L864.7,974.0 L868.5,973.1 L872.3,972.3 L876.1,971.5 L879.9,970.6 L883.7,969.8 L887.6,969.0 L891.4,968.2 L895.2,967.5 L899.0,966.7 L902.8,965.9 L906.6,965.2 L910.4,964.5 L914.3,963.7 L918.1,963.0 L921.9,962.3 L925.7,961.6" fill="none" stroke="#26797a" stroke-width="4.3" stroke-linejoin="round"/></g>
<g fill="#23918d"><ellipse cx="518.5" cy="1310.4" rx="4.2" ry="5.3"/><ellipse cx="546.3" cy="1325.8" rx="4.2" ry="5.3"/><ellipse cx="451.5" cy="1360.8" rx="4.2" ry="5.3"/><ellipse cx="551.3" cy="1359.1" rx="4.2" ry="5.3"/><ellipse cx="540.1" cy="1373.5" rx="4.2" ry="5.3"/><ellipse cx="545.8" cy="1378.9" rx="4.2" ry="5.3"/><ellipse cx="562.7" cy="1381.4" rx="4.2" ry="5.3"/><ellipse cx="523.5" cy="1393.3" rx="4.2" ry="5.3"/><ellipse cx="569.1" cy="1396.3" rx="4.2" ry="5.3"/><ellipse cx="533.1" cy="1401.8" rx="4.2" ry="5.3"/><ellipse cx="533.1" cy="1410.9" rx="4.2" ry="5.3"/><ellipse cx="435.1" cy="1403.3" rx="4.2" ry="5.3"/><ellipse cx="421.9" cy="1417.9" rx="4.2" ry="5.3"/><ellipse cx="402.3" cy="1422.6" rx="4.2" ry="5.3"/><ellipse cx="428.6" cy="1430.8" rx="4.2" ry="5.3"/><ellipse cx="431.6" cy="1439.0" rx="4.2" ry="5.3"/><ellipse cx="405.6" cy="1449.2" rx="4.2" ry="5.3"/><ellipse cx="412.3" cy="1455.1" rx="4.2" ry="5.3"/><ellipse cx="421.7" cy="1465.6" rx="4.2" ry="5.3"/><ellipse cx="468.1" cy="1435.3" rx="4.2" ry="5.3"/><ellipse cx="473.8" cy="1433.5" rx="4.2" ry="5.3"/><ellipse cx="477.5" cy="1463.8" rx="4.2" ry="5.3"/><ellipse cx="516.8" cy="1436.5" rx="4.2" ry="5.3"/><ellipse cx="513.5" cy="1445.7" rx="4.2" ry="5.3"/><ellipse cx="526.7" cy="1424.6" rx="4.2" ry="5.3"/><ellipse cx="556.0" cy="1425.6" rx="4.2" ry="5.3"/><ellipse cx="553.0" cy="1436.8" rx="4.2" ry="5.3"/><ellipse cx="575.8" cy="1446.7" rx="4.2" ry="5.3"/><ellipse cx="670.9" cy="1299.5" rx="4.2" ry="5.3"/><ellipse cx="687.0" cy="1305.5" rx="4.2" ry="5.3"/><ellipse cx="670.6" cy="1329.8" rx="4.2" ry="5.3"/><ellipse cx="680.3" cy="1343.7" rx="4.2" ry="5.3"/><ellipse cx="677.1" cy="1348.9" rx="4.2" ry="5.3"/><ellipse cx="654.3" cy="1365.0" rx="4.2" ry="5.3"/><ellipse cx="659.0" cy="1366.3" rx="4.2" ry="5.3"/><ellipse cx="670.6" cy="1364.8" rx="4.2" ry="5.3"/><ellipse cx="685.3" cy="1380.4" rx="4.2" ry="5.3"/><ellipse cx="680.6" cy="1393.1" rx="4.2" ry="5.3"/><ellipse cx="683.8" cy="1395.3" rx="4.2" ry="5.3"/><ellipse cx="687.0" cy="1424.3" rx="4.2" ry="5.3"/><ellipse cx="778.6" cy="1305.5" rx="4.2" ry="5.3"/><ellipse cx="808.1" cy="1311.2" rx="4.2" ry="5.3"/><ellipse cx="824.3" cy="1317.1" rx="4.2" ry="5.3"/><ellipse cx="814.6" cy="1324.3" rx="4.2" ry="5.3"/><ellipse cx="770.4" cy="1337.2" rx="4.2" ry="5.3"/><ellipse cx="778.6" cy="1342.4" rx="4.2" ry="5.3"/><ellipse cx="801.4" cy="1341.4" rx="4.2" ry="5.3"/><ellipse cx="781.8" cy="1355.8" rx="4.2" ry="5.3"/><ellipse cx="791.8" cy="1368.3" rx="4.2" ry="5.3"/><ellipse cx="762.0" cy="1376.9" rx="4.2" ry="5.3"/><ellipse cx="780.3" cy="1378.9" rx="4.2" ry="5.3"/><ellipse cx="765.4" cy="1395.1" rx="4.2" ry="5.3"/><ellipse cx="548.0" cy="1173.2" rx="4.2" ry="5.3"/><ellipse cx="536.4" cy="1211.7" rx="4.2" ry="5.3"/><ellipse cx="562.7" cy="1257.9" rx="4.2" ry="5.3"/><ellipse cx="456.4" cy="1268.3" rx="4.2" ry="5.3"/><ellipse cx="785.1" cy="1106.0" rx="4.2" ry="5.3"/><ellipse cx="785.1" cy="1109.0" rx="4.2" ry="5.3"/><ellipse cx="801.4" cy="1114.9" rx="4.2" ry="5.3"/><ellipse cx="781.8" cy="1129.5" rx="4.2" ry="5.3"/><ellipse cx="785.1" cy="1139.7" rx="4.2" ry="5.3"/><ellipse cx="793.2" cy="1141.2" rx="4.2" ry="5.3"/><ellipse cx="656.0" cy="1135.5" rx="4.2" ry="5.3"/><ellipse cx="762.0" cy="1171.2" rx="4.2" ry="5.3"/><ellipse cx="817.8" cy="1188.4" rx="4.2" ry="5.3"/><ellipse cx="778.6" cy="1207.0" rx="4.2" ry="5.3"/><ellipse cx="781.8" cy="1218.9" rx="4.2" ry="5.3"/><ellipse cx="775.1" cy="1229.1" rx="4.2" ry="5.3"/><ellipse cx="669.1" cy="1213.7" rx="4.2" ry="5.3"/><ellipse cx="693.5" cy="1221.9" rx="4.2" ry="5.3"/><ellipse cx="670.6" cy="1248.2" rx="4.2" ry="5.3"/><ellipse cx="665.9" cy="1264.1" rx="4.2" ry="5.3"/><ellipse cx="817.8" cy="1238.5" rx="4.2" ry="5.3"/><ellipse cx="814.3" cy="1256.9" rx="4.2" ry="5.3"/><ellipse cx="752.3" cy="1275.0" rx="4.2" ry="5.3"/><ellipse cx="768.7" cy="1281.9" rx="4.2" ry="5.3"/><ellipse cx="829.2" cy="1279.0" rx="4.2" ry="5.3"/><ellipse cx="786.8" cy="1293.1" rx="4.2" ry="5.3"/><ellipse cx="847.2" cy="1045.9" rx="4.2" ry="5.3"/><ellipse cx="811.2" cy="1082.9" rx="4.2" ry="5.3"/><ellipse cx="869.8" cy="1160.0" rx="4.2" ry="5.3"/><ellipse cx="899.6" cy="1211.2" rx="4.2" ry="5.3"/><ellipse cx="140.0" cy="1484.7" rx="4.2" ry="5.3"/><ellipse cx="145.0" cy="1484.7" rx="4.2" ry="5.3"/><ellipse cx="150.0" cy="1484.7" rx="4.2" ry="5.3"/><ellipse cx="155.0" cy="1484.7" rx="4.2" ry="5.3"/><ellipse cx="166.8" cy="1484.7" rx="4.2" ry="5.3"/><ellipse cx="176.0" cy="1484.7" rx="4.2" ry="5.3"/><ellipse cx="181.7" cy="1484.7" rx="4.2" ry="5.3"/><ellipse cx="186.3" cy="1484.7" rx="4.2" ry="5.3"/><ellipse cx="191.0" cy="1484.7" rx="4.2" ry="5.3"/><ellipse cx="202.0" cy="1484.7" rx="4.2" ry="5.3"/><ellipse cx="206.8" cy="1484.7" rx="4.2" ry="5.3"/><ellipse cx="211.5" cy="1484.7" rx="4.2" ry="5.3"/></g>
<g fill="#400a55"><path d="M532.1,1306.1L540.7,1306.1L536.4,1296.9Z"/><path d="M564.8,1304.1L573.4,1304.1L569.1,1294.9Z"/><path d="M581.2,1315.8L589.8,1315.8L585.5,1306.6Z"/><path d="M548.7,1330.7L557.3,1330.7L553.0,1321.5Z"/><path d="M466.8,1364.2L475.4,1364.2L471.1,1355.0Z"/><path d="M496.3,1359.2L504.9,1359.2L500.6,1350.0Z"/><path d="M532.1,1360.7L540.7,1360.7L536.4,1351.5Z"/><path d="M473.2,1379.1L481.8,1379.1L477.5,1369.9Z"/><path d="M476.2,1384.0L484.8,1384.0L480.5,1374.8Z"/><path d="M502.8,1380.8L511.4,1380.8L507.1,1371.6Z"/><path d="M466.8,1394.0L475.4,1394.0L471.1,1384.8Z"/><path d="M532.1,1382.5L540.7,1382.5L536.4,1373.3Z"/><path d="M545.2,1382.0L553.8,1382.0L549.5,1372.8Z"/><path d="M506.3,1393.5L514.9,1393.5L510.6,1384.3Z"/><path d="M545.2,1397.7L553.8,1397.7L549.5,1388.5Z"/><path d="M562.1,1403.6L570.7,1403.6L566.4,1394.4Z"/><path d="M558.4,1410.6L567.0,1410.6L562.7,1401.4Z"/><path d="M417.6,1397.7L426.2,1397.7L421.9,1388.5Z"/><path d="M417.6,1405.6L426.2,1405.6L421.9,1396.4Z"/><path d="M434.0,1413.1L442.6,1413.1L438.3,1403.9Z"/><path d="M440.5,1416.3L449.1,1416.3L444.8,1407.1Z"/><path d="M486.2,1406.9L494.8,1406.9L490.5,1397.7Z"/><path d="M492.9,1411.3L501.5,1411.3L497.2,1402.1Z"/><path d="M499.6,1409.6L508.2,1409.6L503.9,1400.4Z"/><path d="M506.0,1416.5L514.6,1416.5L510.3,1407.3Z"/><path d="M515.7,1420.8L524.3,1420.8L520.0,1411.6Z"/><path d="M538.5,1420.8L547.1,1420.8L542.8,1411.6Z"/><path d="M473.2,1424.0L481.8,1424.0L477.5,1414.8Z"/><path d="M479.7,1426.7L488.3,1426.7L484.0,1417.5Z"/><path d="M427.3,1423.7L435.9,1423.7L431.6,1414.5Z"/><path d="M424.1,1427.5L432.7,1427.5L428.4,1418.3Z"/><path d="M411.2,1433.2L419.8,1433.2L415.5,1424.0Z"/><path d="M434.0,1429.9L442.6,1429.9L438.3,1420.7Z"/><path d="M420.9,1446.6L429.5,1446.6L425.2,1437.4Z"/><path d="M430.8,1447.6L439.4,1447.6L435.1,1438.4Z"/><path d="M427.3,1465.4L435.9,1465.4L431.6,1456.2Z"/><path d="M437.3,1460.5L445.9,1460.5L441.6,1451.3Z"/><path d="M440.7,1462.0L449.3,1462.0L445.0,1452.8Z"/><path d="M417.4,1473.4L426.0,1473.4L421.7,1464.2Z"/><path d="M470.0,1451.5L478.6,1451.5L474.3,1442.3Z"/><path d="M463.3,1455.5L471.9,1455.5L467.6,1446.3Z"/><path d="M466.8,1465.4L475.4,1465.4L471.1,1456.2Z"/><path d="M483.2,1446.6L491.8,1446.6L487.5,1437.4Z"/><path d="M486.6,1444.3L495.2,1444.3L490.9,1435.1Z"/><path d="M489.9,1444.8L498.5,1444.8L494.2,1435.6Z"/><path d="M584.4,1426.2L593.0,1426.2L588.7,1417.0Z"/><path d="M623.9,1356.7L632.5,1356.7L628.2,1347.5Z"/><path d="M741.5,1330.4L750.1,1330.4L745.8,1321.2Z"/><path d="M748.0,1343.1L756.6,1343.1L752.3,1333.9Z"/><path d="M731.9,1348.5L740.5,1348.5L736.2,1339.3Z"/><path d="M744.8,1356.7L753.4,1356.7L749.1,1347.5Z"/><path d="M735.1,1361.9L743.7,1361.9L739.4,1352.7Z"/><path d="M761.1,1373.4L769.7,1373.4L765.4,1364.2Z"/><path d="M738.3,1409.3L746.9,1409.3L742.6,1400.1Z"/><path d="M800.4,1344.8L809.0,1344.8L804.7,1335.6Z"/><path d="M807.1,1373.6L815.7,1373.6L811.4,1364.4Z"/><path d="M803.8,1397.2L812.4,1397.2L808.1,1388.0Z"/><path d="M829.9,1338.4L838.5,1338.4L834.2,1329.2Z"/><path d="M843.1,1315.3L851.7,1315.3L847.4,1306.1Z"/><path d="M555.2,1200.7L563.8,1200.7L559.5,1191.5Z"/><path d="M614.2,1204.4L622.8,1204.4L618.5,1195.2Z"/><path d="M568.3,1231.4L576.9,1231.4L572.6,1222.2Z"/><path d="M561.6,1276.1L570.2,1276.1L565.9,1266.9Z"/><path d="M610.7,1271.1L619.3,1271.1L615.0,1261.9Z"/><path d="M826.4,1105.6L835.0,1105.6L830.7,1096.4Z"/><path d="M744.8,1120.5L753.4,1120.5L749.1,1111.3Z"/><path d="M855.3,1156.8L863.9,1156.8L859.6,1147.6Z"/><path d="M787.5,1184.0L796.1,1184.0L791.8,1174.8Z"/><path d="M721.9,1216.0L730.5,1216.0L726.2,1206.8Z"/><path d="M738.3,1224.7L746.9,1224.7L742.6,1215.5Z"/><path d="M751.2,1233.9L759.8,1233.9L755.5,1224.7Z"/><path d="M748.0,1250.3L756.6,1250.3L752.3,1241.1Z"/><path d="M646.7,1241.9L655.3,1241.9L651.0,1232.7Z"/><path d="M640.0,1253.5L648.6,1253.5L644.3,1244.3Z"/><path d="M800.4,1245.6L809.0,1245.6L804.7,1236.4Z"/><path d="M846.0,1239.9L854.6,1239.9L850.3,1230.7Z"/><path d="M820.0,1260.0L828.6,1260.0L824.3,1250.8Z"/><path d="M836.4,1254.3L845.0,1254.3L840.7,1245.1Z"/><path d="M843.0,1278.1L851.6,1278.1L847.3,1268.9Z"/><path d="M833.1,1288.3L841.7,1288.3L837.4,1279.1Z"/><path d="M829.7,1293.6L838.3,1293.6L834.0,1284.4Z"/><path d="M810.3,1290.8L818.9,1290.8L814.6,1281.6Z"/><path d="M859.3,941.3L867.9,941.3L863.6,932.1Z"/><path d="M741.6,1046.6L750.2,1046.6L745.9,1037.4Z"/><path d="M816.8,1085.3L825.4,1085.3L821.1,1076.1Z"/><path d="M869.3,1182.9L877.9,1182.9L873.6,1173.7Z"/><path d="M898.5,1192.0L907.1,1192.0L902.8,1182.8Z"/><path d="M921.4,1255.3L930.0,1255.3L925.7,1246.1Z"/><path d="M911.7,1319.7L920.3,1319.7L916.0,1310.5Z"/><path d="M862.7,1358.8L871.3,1358.8L867.0,1349.6Z"/><path d="M85.8,1487.8L94.4,1487.8L90.1,1478.6Z"/><path d="M108.5,1487.8L117.1,1487.8L112.8,1478.6Z"/><path d="M112.2,1487.8L120.8,1487.8L116.5,1478.6Z"/><path d="M115.7,1487.8L124.3,1487.8L120.0,1478.6Z"/><path d="M119.7,1487.8L128.3,1487.8L124.0,1478.6Z"/><path d="M123.4,1487.8L132.0,1487.8L127.7,1478.6Z"/><path d="M127.1,1487.8L135.7,1487.8L131.4,1478.6Z"/><path d="M130.7,1487.8L139.3,1487.8L135.0,1478.6Z"/><path d="M136.4,1487.8L145.0,1487.8L140.7,1478.6Z"/><path d="M142.0,1487.8L150.6,1487.8L146.3,1478.6Z"/><path d="M147.7,1487.8L156.3,1487.8L152.0,1478.6Z"/><path d="M152.7,1487.8L161.3,1487.8L157.0,1478.6Z"/></g>
<path d="M49,880 V1551.4" fill="none" stroke="#2e2e2e" stroke-width="0.9"/>
<path d="M48.55,1550.7 H963" fill="none" stroke="#2e2e2e" stroke-width="1.4"/>
<path d="M46.8,880.3 H49" stroke="#2e2e2e" stroke-width="1"/>
<path d="M46.8,1031.5 H49" stroke="#2e2e2e" stroke-width="1"/>
<path d="M46.8,1182.7 H49" stroke="#2e2e2e" stroke-width="1"/>
<path d="M46.8,1333.5 H49" stroke="#2e2e2e" stroke-width="1"/>
<path d="M46.8,1484.5 H49" stroke="#2e2e2e" stroke-width="1"/>
<path d="M49,1550.5 V1552.8" stroke="#2e2e2e" stroke-width="1"/>
<path d="M206.7,1550.5 V1552.8" stroke="#2e2e2e" stroke-width="1"/>
<path d="M370.2,1550.5 V1552.8" stroke="#2e2e2e" stroke-width="1"/>
<path d="M533.7,1550.5 V1552.8" stroke="#2e2e2e" stroke-width="1"/>
<path d="M697,1550.5 V1552.8" stroke="#2e2e2e" stroke-width="1"/>
<path d="M860.7,1550.5 V1552.8" stroke="#2e2e2e" stroke-width="1"/>
<path d="M105.1,174.1L121.5,174.1L113.3,156.1Z" fill="#400a55"/>
<ellipse cx="113.3" cy="188.4" rx="8.2" ry="10.4" fill="#23918d"/>
<path d="M103.8,979.7L120.2,979.7L112.0,961.7Z" fill="#400a55"/>
<ellipse cx="112.0" cy="993.6" rx="8.2" ry="10.4" fill="#23918d"/><g style="filter:grayscale(1)"><text transform="translate(0.5,39.7) scale(1.0,0.95)" font-family="'Liberation Serif', sans-serif" font-size="61" font-weight="normal" text-anchor="start" fill="#000">a)</text>
<text transform="translate(2.0,846.2) scale(1.0,0.95)" font-family="'Liberation Serif', sans-serif" font-size="61" font-weight="normal" text-anchor="start" fill="#000">b)</text>
<text transform="translate(509.1,82.2) scale(0.612,1.16)" font-family="'Liberation Sans', sans-serif" font-size="28" font-weight="normal" text-anchor="middle" fill="#000" stroke="#000" stroke-width="0.55">Global Smooth by Site</text>
<text transform="translate(46.8,81.2) scale(1.0,1.03)" font-family="'Liberation Sans', sans-serif" font-size="15.8" font-weight="normal" text-anchor="end" fill="#4d4d4d">1.00</text>
<text transform="translate(46.8,232.2) scale(1.0,1.03)" font-family="'Liberation Sans', sans-serif" font-size="15.8" font-weight="normal" text-anchor="end" fill="#4d4d4d">0.75</text>
<text transform="translate(46.8,383.2) scale(1.0,1.03)" font-family="'Liberation Sans', sans-serif" font-size="15.8" font-weight="normal" text-anchor="end" fill="#4d4d4d">0.5</text>
<text transform="translate(46.8,534.2) scale(1.0,1.03)" font-family="'Liberation Sans', sans-serif" font-size="15.8" font-weight="normal" text-anchor="end" fill="#4d4d4d">0.25</text>
<text transform="translate(46.8,685.2) scale(1.0,1.03)" font-family="'Liberation Sans', sans-serif" font-size="15.8" font-weight="normal" text-anchor="end" fill="#4d4d4d">0</text>
<text transform="translate(45.2,885.0999999999999) scale(1.0,1.03)" font-family="'Liberation Sans', sans-serif" font-size="15.8" font-weight="normal" text-anchor="end" fill="#4d4d4d">1.00</text>
<text transform="translate(45.2,1036.3) scale(1.0,1.03)" font-family="'Liberation Sans', sans-serif" font-size="15.8" font-weight="normal" text-anchor="end" fill="#4d4d4d">0.75</text>
<text transform="translate(45.2,1187.5) scale(1.0,1.03)" font-family="'Liberation Sans', sans-serif" font-size="15.8" font-weight="normal" text-anchor="end" fill="#4d4d4d">0.5</text>
<text transform="translate(45.2,1338.3) scale(1.0,1.03)" font-family="'Liberation Sans', sans-serif" font-size="15.8" font-weight="normal" text-anchor="end" fill="#4d4d4d">0.25</text>
<text transform="translate(45.2,1489.3) scale(1.0,1.03)" font-family="'Liberation Sans', sans-serif" font-size="15.8" font-weight="normal" text-anchor="end" fill="#4d4d4d">0</text>
<text transform="translate(51,765.0) scale(0.65,1.0)" font-family="'Liberation Sans', sans-serif" font-size="19.5" font-weight="normal" text-anchor="middle" fill="#4d4d4d" stroke="#4d4d4d" stroke-width="0.35">0</text>
<text transform="translate(152,765.0) scale(0.65,1.0)" font-family="'Liberation Sans', sans-serif" font-size="19.5" font-weight="normal" text-anchor="middle" fill="#4d4d4d" stroke="#4d4d4d" stroke-width="0.35">5</text>
<text transform="translate(253.3,765.0) scale(0.65,1.0)" font-family="'Liberation Sans', sans-serif" font-size="19.5" font-weight="normal" text-anchor="middle" fill="#4d4d4d" stroke="#4d4d4d" stroke-width="0.35">10</text>
<text transform="translate(354.6,765.0) scale(0.65,1.0)" font-family="'Liberation Sans', sans-serif" font-size="19.5" font-weight="normal" text-anchor="middle" fill="#4d4d4d" stroke="#4d4d4d" stroke-width="0.35">15</text>
<text transform="translate(458.6,765.0) scale(0.65,1.0)" font-family="'Liberation Sans', sans-serif" font-size="19.5" font-weight="normal" text-anchor="middle" fill="#4d4d4d" stroke="#4d4d4d" stroke-width="0.35">20</text>
<text transform="translate(557.4,765.0) scale(0.65,1.0)" font-family="'Liberation Sans', sans-serif" font-size="19.5" font-weight="normal" text-anchor="middle" fill="#4d4d4d" stroke="#4d4d4d" stroke-width="0.35">25</text>
<text transform="translate(659,765.0) scale(0.65,1.0)" font-family="'Liberation Sans', sans-serif" font-size="19.5" font-weight="normal" text-anchor="middle" fill="#4d4d4d" stroke="#4d4d4d" stroke-width="0.35">30</text>
<text transform="translate(761.5,765.0) scale(0.65,1.0)" font-family="'Liberation Sans', sans-serif" font-size="19.5" font-weight="normal" text-anchor="middle" fill="#4d4d4d" stroke="#4d4d4d" stroke-width="0.35">35</text>
<text transform="translate(861.8,765.0) scale(0.65,1.0)" font-family="'Liberation Sans', sans-serif" font-size="19.5" font-weight="normal" text-anchor="middle" fill="#4d4d4d" stroke="#4d4d4d" stroke-width="0.35">40</text>
<text transform="translate(949.1,765.0) scale(0.65,1.0)" font-family="'Liberation Sans', sans-serif" font-size="19.5" font-weight="normal" text-anchor="middle" fill="#4d4d4d" stroke="#4d4d4d" stroke-width="0.35">45</text>
<text transform="translate(49,1570.4) scale(0.65,1.0)" font-family="'Liberation Sans', sans-serif" font-size="19.5" font-weight="normal" text-anchor="middle" fill="#4d4d4d" stroke="#4d4d4d" stroke-width="0.35">0</text>
<text transform="translate(206.7,1570.4) scale(0.65,1.0)" font-family="'Liberation Sans', sans-serif" font-size="19.5" font-weight="normal" text-anchor="middle" fill="#4d4d4d" stroke="#4d4d4d" stroke-width="0.35">5</text>
<text transform="translate(370.2,1570.4) scale(0.65,1.0)" font-family="'Liberation Sans', sans-serif" font-size="19.5" font-weight="normal" text-anchor="middle" fill="#4d4d4d" stroke="#4d4d4d" stroke-width="0.35">10</text>
<text transform="translate(533.7,1570.4) scale(0.65,1.0)" font-family="'Liberation Sans', sans-serif" font-size="19.5" font-weight="normal" text-anchor="middle" fill="#4d4d4d" stroke="#4d4d4d" stroke-width="0.35">15</text>
<text transform="translate(697,1570.4) scale(0.65,1.0)" font-family="'Liberation Sans', sans-serif" font-size="19.5" font-weight="normal" text-anchor="middle" fill="#4d4d4d" stroke="#4d4d4d" stroke-width="0.35">20</text>
<text transform="translate(860.7,1570.4) scale(0.65,1.0)" font-family="'Liberation Sans', sans-serif" font-size="19.5" font-weight="normal" text-anchor="middle" fill="#4d4d4d" stroke="#4d4d4d" stroke-width="0.35">25</text>
<text transform="translate(515.2,792.1) scale(0.655,1.16)" font-family="'Liberation Sans', sans-serif" font-size="21" font-weight="normal" text-anchor="middle" fill="#000" stroke="#000" stroke-width="0.45">Temperature (°C)</text>
<text transform="translate(524.2,1590.9) scale(0.655,1.16)" font-family="'Liberation Sans', sans-serif" font-size="21" font-weight="normal" text-anchor="middle" fill="#000" stroke="#000" stroke-width="0.45">Temperature (°C)</text>
<text transform="translate(14.2,410) rotate(-90) scale(1.0,1.0)" font-family="'Liberation Sans', sans-serif" font-size="18.0" font-weight="normal" text-anchor="middle" fill="#000">1.05m Run Speed (m/s)</text>
<text transform="translate(14.2,1216) rotate(-90) scale(1.0,1.0)" font-family="'Liberation Sans', sans-serif" font-size="18.0" font-weight="normal" text-anchor="middle" fill="#000">1.05m Run Speed (m/s)</text>
<text transform="translate(125.0,174.1) scale(0.9,1.1)" font-family="'Liberation Sans', sans-serif" font-size="15" font-weight="bold" text-anchor="start" fill="#000" stroke="#000" stroke-width="0.3">Esquel</text>
<text transform="translate(125.0,194.6) scale(0.89,1.1)" font-family="'Liberation Sans', sans-serif" font-size="15" font-weight="bold" text-anchor="start" fill="#000" stroke="#000" stroke-width="0.3">Calafate</text>
<text transform="translate(123.6,979.5) scale(0.9,1.1)" font-family="'Liberation Sans', sans-serif" font-size="15" font-weight="bold" text-anchor="start" fill="#000" stroke="#000" stroke-width="0.3">Esquel</text>
<text transform="translate(123.6,999.8) scale(0.89,1.1)" font-family="'Liberation Sans', sans-serif" font-size="15" font-weight="bold" text-anchor="start" fill="#000" stroke="#000" stroke-width="0.3">Calafate</text></g></svg>
</body></html>
